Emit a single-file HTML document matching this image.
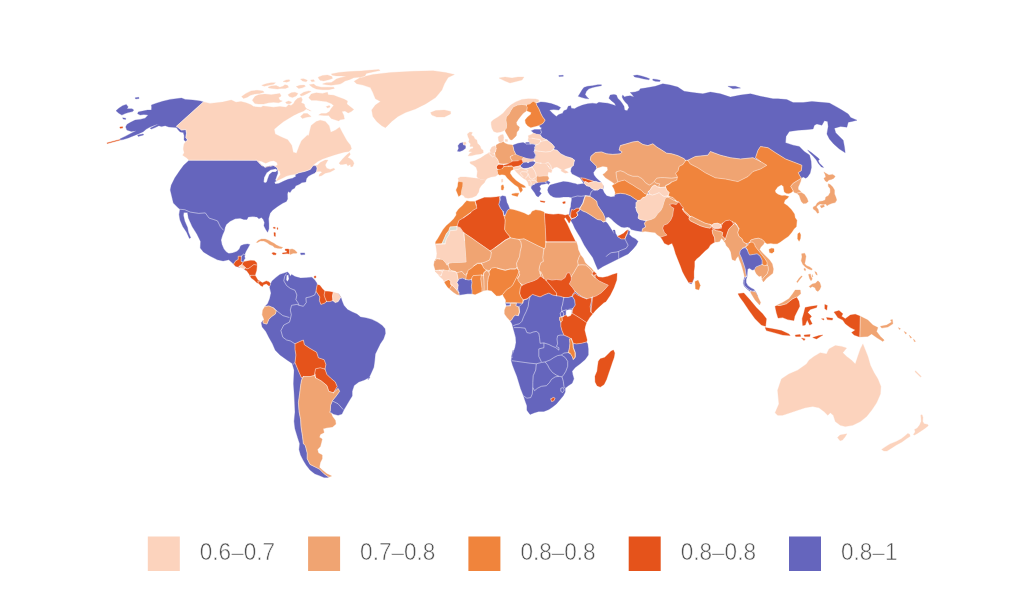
<!DOCTYPE html>
<html><head><meta charset="utf-8"><title>Map</title>
<style>
html,body{margin:0;padding:0;background:#fff}
svg{display:block}
path{stroke-width:.3;stroke-linejoin:round;fill-rule:evenodd}
.bd{fill:none;stroke:#fff;stroke-width:.55;stroke-opacity:.85;stroke-linecap:round}
.a{fill:#fcd3bd}.b{fill:#f0a472}.c{fill:#f0843c}.d{fill:#e5531b}.e{fill:#6565bd}.g{fill:#d8ddd3}
.a{stroke:#fcd3bd}.b{stroke:#f0a472}.c{stroke:#f0843c}.d{stroke:#e5531b}.e{stroke:#6565bd}.g{stroke:#d8ddd3}
.l{fill:none;stroke:#fff;stroke-width:.7;stroke-opacity:.7}
text{font-family:"Liberation Sans",sans-serif;font-size:23.7px;fill:#505050;stroke:#fff;stroke-width:.55px}
</style></head><body>
<svg width="1024" height="614" viewBox="0 0 1024 614">
<rect width="1024" height="614" fill="#fff"/>
<g id="map">
<path class="e" d="M139.1,98.5L138.8,97.3L135.1,97.8L135.7,99.0ZM133.8,110.1L132.0,108.8L126.9,108.8L128.2,106.9L126.3,104.4L122.6,105.7L118.8,108.2L116.0,110.7L118.8,113.2L121.9,115.1L125.1,113.6L128.2,112.6L132.6,111.6ZM123.2,119.1L125.7,119.4L125.7,118.2L122.6,117.8ZM143.6,134.9L143.2,133.9L137.6,135.1L138.2,136.4ZM137.6,113.8L140.1,115.1L143.9,114.4L148.2,115.1L145.1,118.2L140.1,119.4L135.1,120.1L130.1,122.6L126.9,124.5L125.7,127.0L126.9,130.1L131.3,131.4L136.3,130.7L131.3,133.2L125.1,136.4L119.8,139.1L119.9,139.4L120.1,139.4L120.2,140.1L123.2,139.6L128.2,138.0L133.2,135.9L138.2,133.9L143.2,131.7L146.4,129.1L150.1,127.0L155.1,125.1L158.9,124.1L155.1,125.7L150.1,128.2L151.4,129.1L155.1,127.6L158.9,125.7L161.4,126.6L165.2,125.7L168.9,127.0L172.7,127.3L176.4,127.6L178.3,130.1L180.2,132.0L183.3,132.6L184.2,135.7L184.0,140.1L185.8,141.6L187.7,140.1L185.8,137.6L186.5,133.2L185.8,129.5L181.5,130.1L178.3,127.6L176.4,126.3L203.4,101.9L200.3,101.0L192.7,100.0L185.2,99.4L181.5,98.1L177.7,98.5L170.2,99.4L162.7,101.3L156.4,103.2L151.4,105.0L151.6,107.5L151.4,110.1L147.6,110.1L142.6,111.1L138.2,111.9ZM183.7,165.3L180.0,170.3L174.9,177.8L171.2,185.3L170.3,190.0L171.6,195.6L173.4,203.1L178.1,207.8L180.0,209.3L179.1,214.4L180.0,220.0L182.8,226.6L186.6,232.2L189.4,238.4L190.7,237.8L188.4,232.2L187.5,227.5L184.7,220.9L183.4,215.3L183.8,212.5L187.5,212.5L188.4,218.1L192.2,226.6L196.9,234.1L200.6,241.6L200.3,248.1L203.4,251.9L210.0,256.0L217.5,259.8L223.1,260.9L228.8,259.8L232.5,263.1L233.7,264.3L233.8,263.7L235.7,260.8L238.2,259.5L238.2,256.2L241.3,256.2L243.8,253.9L244.8,254.8L244.5,256.4L245.1,253.3L246.3,250.8L248.2,247.6L249.8,244.5L247.6,243.9L243.8,244.5L240.7,245.8L239.4,248.9L236.9,251.4L232.6,252.9L228.8,253.6L226.3,252.0L223.8,248.9L221.9,244.5L221.0,240.1L222.5,235.1L224.4,230.7L225.0,227.6L226.3,224.4L230.1,221.3L235.1,218.8L240.1,218.2L243.8,219.4L247.0,219.4L248.2,216.9L252.6,216.6L257.0,216.9L258.9,218.8L261.4,217.6L263.3,219.4L264.5,222.6L263.9,225.7L265.8,229.5L267.6,232.3L268.9,228.8L268.9,223.8L268.6,218.8L269.1,216.7L270.1,213.3L272.6,210.2L277.6,206.4L282.6,203.3L286.4,201.4L287.6,198.9L287.4,193.9L288.2,191.4L290.1,192.6L292.0,189.5L294.5,188.2L295.8,185.7L298.9,184.5L302.0,182.6L305.8,182.0L306.4,178.8L308.3,176.3L311.4,174.5L315.2,172.8L316.7,171.3L317.1,168.2L316.4,165.7L313.9,165.7L312.1,166.9L310.2,169.4L305.2,171.3L298.9,172.8L295.1,174.5L295.1,174.5L296.1,176.3L292.6,178.2L288.2,179.3L283.9,181.1L278.8,183.5L275.3,184.1L274.5,182.1L276.8,180.8L275.7,180.1L275.8,180.0L275.5,179.8L276.6,176.3L277.8,173.2L277.6,170.1L277.8,170.2L277.6,168.8L276.3,166.9L274.5,166.2L272.5,165.8L269.4,166.3L265.1,167.3L264.9,167.2L264.4,167.3L262.8,166.1L261.9,165.7L258.8,162.6L256.3,159.8L256.4,160.3L189.2,160.2ZM275.7,172.0L272.3,172.1L269.4,174.5L267.8,178.8L266.8,182.1L265.1,182.9L263.6,182.0L264.1,177.6L266.6,172.8L270.7,169.8L275.7,168.8L277.6,170.1ZM240.0,267.3L238.8,266.9L239.4,266.2L238.6,266.9L235.3,265.9ZM246.6,270.6L244.4,269.2L245.1,267.7L244.2,269.0ZM250.3,276.3L250.3,275.5L249.8,275.3ZM259.3,280.9L259.5,281.3L260.2,281.4Z"/>
<path class="a" d="M300.5,79.0L302.4,80.9L306.2,81.8L307.4,80.3L303.7,78.8ZM283.0,81.5L286.8,82.2L289.9,80.9L289.3,79.7L286.1,80.0ZM273.6,84.3L275.5,82.8L271.1,82.8L266.1,83.8L261.7,85.3L264.2,86.3L268.6,85.3ZM299.9,85.3L296.2,86.6L298.7,88.4L302.4,87.8L305.5,86.3L304.3,85.1ZM279.9,87.2L276.1,85.6L271.1,85.9L268.0,87.2L269.2,88.1L272.3,88.4L277.4,89.1L281.1,88.4L285.5,88.4L288.6,87.2L287.4,85.3L284.9,84.7L283.0,86.3ZM241.6,96.6L243.5,98.5L247.3,97.2L250.4,95.3L254.8,94.1L259.8,93.4L264.2,92.2L262.9,90.9L257.3,90.3L251.0,90.9L246.0,93.4ZM298.0,93.4L294.9,92.2L291.1,92.8L288.0,94.7L289.3,96.6L292.4,97.6L296.2,96.0ZM279.9,93.4L276.1,94.1L271.1,94.7L264.8,94.1L258.6,94.7L254.8,96.6L252.3,100.3L254.8,103.5L258.6,104.1L263.6,104.1L268.6,102.8L273.6,102.2L278.6,102.8L282.4,101.0L279.9,100.3L278.6,97.8L281.1,96.0ZM289.9,103.8L291.8,102.2L288.6,101.0L285.5,102.2L286.8,103.8ZM185.8,137.6L187.7,140.1L185.8,141.6L184.0,143.9L183.3,148.9L184.2,152.7L182.7,155.2L186.5,157.7L189.2,160.2L256.4,160.3L256.3,159.8L258.8,162.6L261.9,165.7L262.8,166.1L261.3,165.1L257.5,160.7L261.3,161.3L265.7,163.2L270.1,161.3L273.8,160.7L277.0,162.6L277.6,165.1L275.1,166.3L274.5,166.2L276.3,166.9L277.6,168.8L277.8,170.2L279.8,171.3L280.4,174.5L278.2,177.6L276.6,180.4L275.8,180.0L275.7,180.1L276.8,180.8L277.6,180.4L283.2,177.8L286.6,176.1L290.1,175.1L294.9,174.2L295.1,174.5L295.1,174.5L298.9,172.8L305.2,171.3L310.2,169.4L312.1,166.9L313.3,165.1L317.7,161.6L322.7,159.0L327.7,157.2L335.2,154.7L344.0,152.2L349.0,151.5L351.5,148.8L350.3,145.0L347.8,141.9L346.6,140.2L342.4,132.7L339.6,127.2L335.3,130.2L330.8,132.2L329.1,125.7L325.3,121.4L320.3,120.2L316.2,121.6L311.2,125.4L309.9,130.4L308.7,135.4L307.3,135.2L301.5,140.7L299.0,146.5L296.5,153.2L293.2,152.2L291.7,145.2L287.7,139.7L280.7,136.7L275.2,133.9L274.2,129.2L278.6,125.4L283.6,121.6L288.6,118.5L293.6,115.4L298.7,112.9L303.7,111.0L306.2,109.1L311.2,111.0L306.2,108.5L304.9,106.6L304.3,104.1L301.2,102.8L302.4,99.7L301.2,97.2L297.4,98.5L294.9,101.0L293.6,103.5L291.1,105.4L288.6,104.7L286.1,107.2L279.9,106.6L273.6,107.2L267.3,106.6L262.9,106.0L261.1,107.2L253.5,106.6L251.0,104.7L246.0,102.8L241.0,101.6L236.0,102.2L231.3,100.1L222.6,102.1L210.0,103.4L203.4,101.9L176.4,126.3L178.3,127.6L181.5,130.1L185.8,129.5L186.5,133.2ZM265.1,167.3L269.4,166.3L272.5,165.8L272.0,165.7L268.2,166.6L264.9,167.2ZM322.5,84.1L326.2,84.7L331.2,85.3L335.0,84.7L340.0,84.1L342.5,82.8L345.0,80.9L349.4,79.7L353.8,77.8L358.8,77.2L360.9,77.4L364.6,76.5L366.3,73.4L373.8,71.8L380.1,70.5L378.9,69.6L368.8,70.3L361.3,70.9L353.8,71.3L346.3,71.8L338.8,72.5L331.2,74.0L332.5,75.3L336.3,75.9L341.3,75.9L346.3,76.5L340.0,77.8L336.3,79.0L333.7,80.9L331.2,82.5L326.2,82.8ZM318.7,78.4L320.0,80.3L323.7,80.9L328.7,79.7L332.5,78.4L331.9,76.5L327.5,75.0L322.5,75.5L318.1,77.2ZM310.6,80.0L311.8,81.8L314.7,81.3L313.7,79.7ZM309.3,84.7L312.4,87.2L316.2,89.1L322.5,89.7L328.7,89.7L334.4,88.4L333.7,87.2L327.5,87.2L321.2,87.2L316.2,85.9L313.7,84.1ZM311.2,91.6L308.7,90.9L303.7,92.2L299.9,94.7L301.2,96.0L303.7,95.3L307.4,93.4ZM321.2,113.5L318.7,115.1L323.7,115.4L328.7,115.4L331.2,118.5L335.0,119.8L338.8,121.0L340.0,119.8L344.4,119.1L343.8,115.4L341.9,111.6L345.0,111.0L348.2,112.9L351.3,111.6L353.8,109.4L350.0,106.6L346.9,104.1L347.5,101.0L343.8,99.1L338.8,97.2L333.7,95.3L328.1,94.7L327.5,92.2L322.5,93.4L316.2,92.8L311.2,94.1L308.7,97.8L311.2,100.3L316.2,100.3L321.2,101.0L326.2,101.6L331.2,103.5L333.7,105.4L331.2,108.5L329.4,111.6L326.2,113.5ZM329.4,105.6L326.2,106.6L327.5,108.1L330.2,106.9ZM350.3,154.4L349.6,152.5L346.5,155.0L342.8,158.8L339.0,163.2L340.3,164.4L342.8,164.4L346.5,163.8L347.8,165.7L350.3,164.4L350.9,166.9L352.8,166.3L354.0,163.2L352.8,160.7L350.3,158.8L347.8,157.5ZM322.1,172.3L319.6,174.1L318.9,176.3L321.5,175.7L325.2,173.2L330.2,172.0L334.9,169.4L334.0,168.2L330.2,169.4L326.7,168.2L325.2,165.1L326.5,162.6L328.0,160.1L325.2,160.1L320.2,162.6L317.1,165.4L313.9,165.7L316.4,165.7L317.1,168.2L316.7,171.3L315.2,172.8L317.1,171.6L320.2,171.3Z"/>
<path class="d" d="M241.3,258.9L241.3,256.2L238.2,256.2L238.2,259.5L235.7,260.8L233.8,263.7L233.7,264.3L235.3,265.9L238.6,266.9L239.4,266.2L240.1,265.8L242.0,264.5L243.2,262.0L241.1,261.4Z"/>
<path class="e" d="M241.3,256.2L241.3,258.9L241.1,261.4L243.2,262.0L243.8,260.2L245.1,258.3L244.5,256.4L244.8,254.8L243.8,253.9Z"/>
<path class="a" d="M244.5,266.4L242.0,264.5L240.1,265.8L239.4,266.2L238.8,266.9L240.0,267.3L243.8,268.8L244.2,269.0L245.1,267.7Z"/>
<path class="d" d="M244.5,266.4L245.1,267.7L247.0,268.9L248.8,268.3L251.4,266.4L253.9,264.5L257.0,265.1L256.6,262.7L254.5,260.8L250.7,260.4L246.3,261.2L243.2,262.0L242.0,264.5Z"/>
<path class="d" d="M251.4,266.4L248.8,268.3L247.0,268.9L245.1,267.7L244.4,269.2L246.6,270.6L249.4,274.4L249.8,275.3L250.3,275.5L250.3,275.3L255.0,275.3L256.5,270.6L257.0,265.2L257.0,265.1L253.9,264.5Z"/>
<path class="d" d="M250.3,276.3L251.3,278.1L254.1,280.0L256.9,282.8L258.4,283.3L257.8,280.9L259.5,281.3L259.3,280.9L257.8,280.0L255.0,275.3L250.3,275.3Z"/>
<path class="d" d="M258.4,283.3L258.8,283.4L260.6,285.6L262.5,286.6L263.4,284.7L266.3,283.8L269.1,286.0L270.3,285.2L270.5,284.1L269.1,281.9L266.3,280.9L262.5,282.8L260.2,281.4L257.8,280.9Z"/>
<path class="a" d="M302.4,118.5L306.2,117.3L311.2,116.6L307.4,113.5L303.7,113.5L300.5,116.6Z"/>
<path class="a" d="M356.6,83.8L362.9,85.1L370.4,87.6L372.9,92.6L375.4,98.8L380.5,101.4L375.4,105.1L371.7,110.1L372.9,116.4L376.7,121.4L381.7,125.7L385.5,127.7L391.7,121.4L398.0,116.4L405.5,112.6L415.5,108.9L425.6,103.9L435.6,97.6L441.9,90.1L444.4,83.8L448.1,77.5L454.4,74.5L445.6,72.5L433.1,70.8L413.0,71.3L390.5,72.5L372.9,74.5L360.4,77.5L354.1,81.3Z"/>
<path class="a" d="M431.8,115.1L436.8,117.1L444.4,117.1L450.6,113.9L450.6,111.4L444.4,110.1L435.6,110.6L430.6,112.6Z"/>
<path class="d" d="M107.3,143.6L120.2,140.1L120.1,139.4L106.9,142.9Z"/>
<path class="d" d="M120.1,128.3L122.7,128.1L122.6,126.7L119.8,127.0Z"/>
<path class="b" d="M257.6,242.4L260.1,241.1L263.9,241.1L267.0,242.6L269.5,244.5L272.7,245.8L274.5,247.6L277.7,248.3L281.4,248.6L282.7,247.4L279.5,246.4L276.4,245.1L273.9,243.2L271.4,242.0L268.9,240.4L265.1,239.1L261.4,239.1L258.2,240.4L256.4,242.4Z"/>
<path class="d" d="M287.7,248.9L285.2,249.1L285.2,250.4L287.1,251.1L286.4,252.4L282.4,252.9L282.7,253.9L287.1,253.6L289.6,253.9L289.6,253.6L289.6,249.5Z"/>
<path class="b" d="M289.6,253.6L290.2,254.5L293.3,253.3L296.5,253.3L297.1,252.4L294.6,250.1L292.1,248.9L289.6,249.5Z"/>
<path class="d" d="M273.3,254.8L275.8,254.8L276.2,253.5L273.9,252.6L271.8,253.0Z"/>
<path class="e" d="M300.9,254.8L304.9,254.5L304.6,252.9L300.5,252.9Z"/>
<path class="d" d="M273.5,228.3L275.2,228.6L275.2,227.3L273.3,227.3Z"/>
<path class="d" d="M274.2,236.1L275.4,236.4L275.4,232.8L273.9,232.6Z"/>
<path class="d" d="M277.2,229.3L277.8,229.5L277.9,227.8L277.0,227.8Z"/>
<path class="d" d="M314.4,278.1L315.9,277.8L315.9,275.9L314.1,276.3Z"/>
<path class="e" d="M375.3,354.1L377.5,349.4L380.3,343.8L383.5,339.1L385.4,333.4L385.0,328.8L382.2,325.4L377.5,322.2L371.9,319.4L366.3,317.9L360.6,317.1L356.9,314.1L352.2,311.9L347.5,309.6L343.8,305.3L342.3,301.6L340.9,297.3L338.1,293.5L340.8,297.1L338.1,301.6L335.3,302.5L332.9,300.6L329.7,301.6L326.5,301.6L324.1,303.4L320.9,304.4L319.4,300.6L319.8,296.9L317.9,294.1L316.0,291.3L316.6,287.5L317.3,284.4L316.6,282.8L314.7,280.0L311.9,277.2L306.3,277.8L300.6,278.1L295.0,276.6L291.6,274.4L290.3,276.3L289.0,273.4L287.5,272.1L284.7,272.9L280.0,274.4L276.3,277.2L272.1,280.9L270.6,283.8L269.7,287.5L271.0,293.1L269.7,298.8L267.8,303.4L265.0,306.6L268.8,305.9L273.4,307.8L276.3,310.9L275.3,314.1L271.6,316.6L268.8,319.4L266.9,324.1L263.1,323.1L263.1,320.5L261.3,322.8L262.2,326.9L265.9,331.6L268.8,337.2L272.5,343.8L275.3,350.3L280.0,355.0L286.6,359.7L292.2,363.4L294.1,370.0L293.5,383.8L294.1,393.1L294.6,402.5L295.0,411.9L294.1,421.3L295.0,428.8L297.8,438.1L299.7,443.8L299.1,449.4L300.6,455.0L303.4,460.6L306.3,465.3L310.0,470.0L314.7,473.8L319.4,475.6L324.1,477.5L327.8,477.5L328.8,477.1L328.8,477.1L324.1,473.8L319.4,469.1L315.6,467.2L310.0,464.4L307.2,458.8L307.2,453.1L305.3,445.6L303.4,443.8L302.5,436.3L301.0,426.9L300.6,419.4L299.1,411.9L298.4,402.5L299.7,393.1L300.6,385.6L301.6,380.0L303.4,376.6L301.6,378.1L299.1,372.5L296.9,367.2L295.0,362.5L295.9,355.0L295.0,349.4L295.0,343.8L299.7,341.5L303.4,340.0L304.4,344.7L310.0,348.4L316.6,352.2L318.4,357.8L324.1,359.7L325.9,364.4L325.0,369.1L325.0,369.1L326.9,374.4L330.6,378.1L335.3,381.9L337.2,386.6L333.4,392.8L338.1,388.4L339.6,391.3L336.3,395.9L332.5,400.6L330.6,405.3L330.3,410.9L329.7,412.3L331.2,413.3L330.6,411.9L333.4,414.1L338.1,415.3L341.9,414.1L343.8,410.0L346.6,405.3L349.4,400.6L352.2,395.9L352.2,391.3L354.1,385.6L358.8,381.9L364.4,380.0L369.1,377.6L370.9,373.8L373.8,367.2L374.7,360.6ZM286.2,280.0L286.6,275.3L288.4,274.8L289.0,279.1L287.5,281.5ZM368.1,379.8L370.0,377.2L369.1,377.6ZM314.7,375.3L315.6,377.8L314.9,374.2Z"/>
<path class="b" d="M266.9,324.1L268.8,319.4L271.6,316.6L275.3,314.1L276.3,310.9L273.4,307.8L268.8,305.9L265.0,306.6L262.8,310.0L262.2,314.7L264.1,319.4L263.1,320.5L263.1,323.1Z"/>
<path class="d" d="M316.0,291.3L317.9,294.1L319.8,296.9L319.4,300.6L320.9,304.4L324.1,303.4L326.5,301.6L325.0,297.8L324.1,295.0L324.9,291.2L322.2,288.4L319.8,285.3L317.5,284.7L317.3,284.4L316.6,287.5Z"/>
<path class="d" d="M325.0,297.8L326.5,301.6L329.7,301.6L332.9,300.6L332.5,295.9L333.3,292.2L328.8,291.6L325.0,291.3L324.9,291.2L324.1,295.0Z"/>
<path class="a" d="M332.9,300.6L335.3,302.5L338.1,301.6L340.8,297.1L338.1,293.5L333.4,292.2L333.3,292.2L332.5,295.9Z"/>
<path class="d" d="M295.9,355.0L295.0,362.5L296.9,367.2L299.1,372.5L301.6,378.1L303.4,376.6L310.0,376.6L314.7,375.3L314.9,374.2L314.7,373.4L315.6,368.8L320.3,367.8L325.0,369.1L325.0,369.1L325.9,364.4L324.1,359.7L318.4,357.8L316.6,352.2L310.0,348.4L304.4,344.7L303.4,340.0L299.7,341.5L295.0,343.8L295.0,349.4Z"/>
<path class="d" d="M315.6,377.8L321.3,380.9L326.9,385.6L328.8,391.3L333.4,392.8L337.2,386.6L335.3,381.9L330.6,378.1L326.9,374.4L325.0,369.1L320.3,367.8L315.6,368.8L314.7,373.4Z"/>
<path class="b" d="M330.3,410.9L330.6,405.3L332.5,400.6L336.3,395.9L339.6,391.3L338.1,388.4L333.4,392.8L328.8,391.3L326.9,385.6L321.3,380.9L315.6,377.8L314.7,375.3L310.0,376.6L303.4,376.6L301.6,380.0L300.6,385.6L299.7,393.1L298.4,402.5L299.1,411.9L300.6,419.4L301.0,426.9L302.5,436.3L303.4,443.8L305.3,445.6L307.2,453.1L307.2,458.8L310.0,464.4L315.6,467.2L319.4,469.1L324.1,473.8L328.8,477.1L328.8,477.1L331.6,476.0L326.9,473.8L322.2,470.0L319.4,467.2L320.3,462.5L322.2,458.8L322.2,455.0L318.4,453.1L317.5,449.4L320.3,446.6L321.3,442.8L322.2,439.1L319.4,437.2L320.3,434.4L324.1,432.5L323.1,428.8L326.9,427.8L332.5,426.9L335.9,424.1L335.3,420.3L332.5,416.6L331.2,413.3L329.7,412.3Z"/>
<path class="e" d="M572.0,173.8L576.0,175.8L580.1,177.8L583.9,183.5L582.3,183.8L577.3,184.4L575.9,183.8L573.3,183.2L568.3,182.0L563.3,181.6L558.3,182.8L554.5,183.8L550.1,185.1L548.3,187.6L547.6,190.1L548.3,192.6L550.1,195.1L553.3,197.0L556.0,197.5L559.8,197.5L563.5,196.9L568.5,196.9L571.7,197.5L571.7,200.1L571.0,203.2L570.8,206.9L570.0,208.8L569.5,213.8L569.2,215.3L571.3,219.1L571.0,220.7L572.9,223.9L574.8,228.2L577.3,232.6L580.4,237.6L584.2,245.1L588.4,251.4L592.9,257.7L595.4,263.9L597.9,269.7L603.0,266.4L610.5,262.7L620.5,257.7L628.1,253.9L633.1,248.9L636.2,245.2L638.1,241.4L635.6,238.9L631.8,237.0L629.3,234.5L629.9,231.4L628.1,229.9L628.3,230.1L627.4,233.3L626.2,235.8L624.9,238.9L621.2,238.9L617.4,236.4L615.5,233.3L614.9,230.1L613.0,230.1L614.3,233.9L611.8,230.1L609.9,227.0L607.4,223.2L605.5,221.4L606.1,217.6L608.6,217.0L611.1,218.8L614.3,222.0L617.4,224.5L621.2,227.0L624.3,227.6L627.4,227.0L629.3,227.6L631.2,229.5L636.2,230.8L641.2,231.4L641.8,231.4L641.9,232.0L642.5,228.8L645.6,227.0L644.4,223.2L646.3,220.7L642.5,220.1L640.0,219.4L638.1,218.2L638.7,214.5L636.8,211.3L635.6,206.9L636.0,207.7L636.0,202.7L637.9,200.8L634.1,198.3L630.4,195.8L625.4,193.9L620.3,193.3L616.0,193.9L615.0,194.5L614.7,196.4L610.9,197.0L606.6,195.8L604.1,192.6L602.8,189.5L603.4,185.7L602.8,188.9L600.3,188.2L597.8,190.1L594.7,190.1L591.5,188.2L589.6,186.4L586.5,185.7L584.0,183.2L584.8,182.0L583.2,181.1L580.7,177.8L584.5,178.3L588.9,179.8L593.3,181.1L593.9,181.6L595.9,181.4L599.0,182.6L601.5,182.6L598.4,180.1L595.9,177.6L594.0,175.1L593.4,172.6L596.5,168.2L596.5,166.3L593.4,163.2L590.3,160.1L590.9,156.3L595.3,152.5L601.5,151.9L606.6,153.8L612.8,154.4L620.3,153.8L622.2,151.9L619.1,150.0L620.3,145.6L626.6,143.8L632.9,141.9L637.9,141.3L642.9,144.4L647.9,145.6L652.9,143.8L656.7,146.9L661.7,150.0L666.7,153.2L671.7,153.8L678.0,155.7L684.3,158.8L685.5,160.7L685.3,160.3L687.8,160.3L695.3,156.5L707.9,155.2L710.4,151.5L720.4,155.2L730.4,157.7L740.5,159.0L753.0,157.7L760.5,161.5L755.5,157.7L758.0,150.2L760.5,146.5L768.0,147.7L775.5,152.7L785.6,159.0L795.6,162.8L801.9,165.3L801.3,170.7L798.2,172.6L799.4,175.1L801.3,178.2L803.2,176.9L805.7,178.2L807.6,176.9L810.1,173.2L811.4,167.5L811.1,161.3L809.5,155.0L804.3,151.5L799.3,146.5L793.1,145.2L785.5,142.7L786.0,136.4L789.3,131.4L798.1,130.2L805.6,129.7L813.1,128.9L814.4,125.2L816.9,123.9L821.9,125.2L824.4,120.7L827.6,121.4L828.2,126.4L826.9,133.9L829.4,138.9L833.7,144.0L839.4,149.0L845.2,152.7L844.4,146.5L843.2,140.2L839.4,136.4L835.7,132.7L834.4,128.2L840.7,126.4L846.9,127.2L848.2,122.2L852.0,121.4L857.0,120.2L850.7,117.6L848.2,113.9L841.9,110.1L835.7,106.4L829.4,103.1L818.1,102.1L811.9,101.4L803.1,102.6L793.1,102.6L786.8,99.6L778.0,98.8L773.0,98.8L760.5,96.3L750.5,93.8L740.5,95.1L730.4,97.1L720.4,93.8L710.4,92.1L702.9,93.8L692.8,92.6L684.1,91.3L677.8,87.1L670.3,85.1L662.8,83.8L655.2,86.3L645.2,88.1L640.3,88.8L639.0,90.7L635.2,91.9L630.2,92.6L632.1,94.4L634.0,96.9L630.2,95.7L626.5,96.3L624.6,96.9L622.7,95.1L622.1,96.9L623.3,99.4L625.2,102.0L627.7,104.5L629.0,107.6L627.1,110.7L624.6,110.1L624.0,106.3L622.1,103.2L620.2,100.7L617.7,98.2L616.4,95.1L613.9,94.4L610.2,95.1L608.9,98.2L611.4,100.7L614.6,103.2L615.8,105.7L612.1,104.5L607.7,103.2L602.7,102.8L598.9,102.3L596.4,103.8L592.6,103.2L587.6,103.8L582.6,105.1L577.6,107.0L574.5,108.8L571.3,108.2L570.7,105.7L568.2,106.3L566.9,109.5L563.8,110.7L562.6,113.2L558.8,114.5L556.3,116.4L552.5,113.2L549.4,110.1L553.8,109.5L558.8,110.1L560.7,107.6L557.5,105.7L551.3,103.6L545.0,102.3L540.7,101.9L536.2,103.6L537.0,105.7L538.9,108.8L540.7,113.2L542.6,116.9L545.1,120.1L543.2,123.2L540.1,125.1L539.0,125.4L540.7,127.6L541.5,127.6L541.0,130.0L540.9,130.5L541.4,132.6L540.6,133.7L540.5,135.3L542.0,137.6L547.0,140.1L552.0,143.9L554.5,147.0L553.3,149.5L557.0,150.2L560.8,153.9L565.8,156.4L572.1,158.3L574.5,160.2L573.9,162.5L573.3,165.7L573.1,165.8L571.3,168.3L570.8,171.3ZM603.0,222.0L601.1,220.1L597.4,219.5L593.6,217.0L589.8,214.5L586.1,212.3L582.9,211.1L580.4,209.4L579.8,208.2L582.9,203.2L584.2,198.8L585.4,195.7L589.8,196.3L593.6,198.8L596.7,201.3L597.4,205.1L599.9,208.8L603.0,213.2L604.9,217.6L605.5,221.4ZM579.2,210.7L576.7,212.6L577.9,215.1L575.4,217.6L571.7,218.8L570.4,216.3L570.8,212.6L571.7,209.4L573.5,210.1L576.7,208.2L579.8,208.2ZM688.9,282.8L691.4,284.0L693.9,277.8L691.9,282.7L688.8,282.7ZM743.8,280.1L743.3,283.3L744.0,284.8L744.0,280.1L745.8,277.0L746.5,276.4L744.8,277.0L744.6,277.1ZM744.6,286.4L747.1,288.9L750.2,291.4L750.4,291.8L750.8,290.8L747.1,288.3L744.2,285.4L744.0,284.8ZM754.6,290.2L752.7,288.9L754.4,290.0L754.0,291.4L755.5,291.9L757.6,296.3ZM675.5,200.2L675.5,200.9L676.3,201.3L676.7,201.4ZM648.5,191.4L647.3,194.5L649.2,193.9ZM682.9,208.6L682.6,209.4L683.3,209.5ZM736.3,224.7L738.9,228.8L737.1,225.0L736.2,224.1ZM746.5,243.8L747.7,245.1L749.6,242.5ZM745.8,247.6L746.3,246.1L745.2,246.9L742.7,248.2L745.2,247.6L747.1,249.4Z"/>
<path class="b" d="M675.5,200.2L673.0,197.6L669.2,196.4L666.9,196.9L670.1,198.1L673.2,200.0L675.5,200.9Z"/>
<path class="d" d="M736.2,224.1L735.2,223.2L736.3,224.7ZM682.6,209.4L682.6,209.4L683.4,210.7L690.4,216.6L690.4,216.6L690.4,216.6L688.0,213.9L683.6,210.2L683.3,209.5ZM712.1,225.1L710.2,224.4L711.4,225.7L712.1,228.2L713.9,228.8L717.7,228.8L721.5,228.2L721.5,225.7L722.7,223.2L720.8,224.4L721.2,227.0L718.3,228.2L714.6,228.2L712.4,227.0ZM732.7,221.9L733.4,224.4L735.2,223.2Z"/>
<path class="b" d="M593.4,163.2L596.5,166.3L596.5,168.2L602.8,166.3L607.2,166.9L607.8,170.1L604.7,173.2L602.8,174.5L605.3,177.6L609.1,180.1L612.2,182.0L614.7,183.9L617.8,182.0L621.6,180.7L624.7,180.1L628.5,182.6L632.9,185.1L636.6,187.6L641.0,190.1L644.2,193.3L647.3,194.5L648.5,191.4L650.4,189.5L652.3,186.4L654.8,185.1L657.9,187.0L660.4,187.6L665.5,187.0L665.5,185.7L669.2,183.9L671.7,182.0L676.7,180.1L677.4,177.0L675.5,173.2L678.0,170.7L679.2,166.3L683.0,164.4L685.5,160.7L684.3,158.8L678.0,155.7L671.7,153.8L666.7,153.2L661.7,150.0L656.7,146.9L652.9,143.8L647.9,145.6L642.9,144.4L637.9,141.3L632.9,141.9L626.6,143.8L620.3,145.6L619.1,150.0L622.2,151.9L620.3,153.8L612.8,154.4L606.6,153.8L601.5,151.9L595.3,152.5L590.9,156.3L590.3,160.1Z"/>
<path class="b" d="M697.8,167.8L705.4,172.8L715.4,177.8L725.4,179.0L737.9,181.6L748.0,176.5L753.0,171.5L760.5,169.0L766.8,165.3L760.5,161.5L753.0,157.7L740.5,159.0L730.4,157.7L720.4,155.2L710.4,151.5L707.9,155.2L695.3,156.5L687.8,160.3L690.3,164.0Z"/>
<path class="c" d="M712.1,225.1L713.9,223.6L717.7,223.2L720.8,224.4L722.7,223.2L725.8,220.7L729.6,220.1L732.7,221.9L735.2,223.2L737.1,225.0L738.9,228.8L737.7,232.5L738.9,236.3L742.1,238.8L743.3,241.9L746.5,243.8L749.6,242.5L750.8,240.0L754.6,238.8L758.4,238.2L762.1,239.4L764.6,241.9L767.1,243.8L770.9,243.2L773.4,243.8L777.2,243.8L780.3,241.9L784.7,238.8L788.4,236.3L791.6,232.5L794.1,228.8L796.3,226.7L796.9,220.2L795.1,217.7L794.4,213.9L791.3,209.5L787.5,205.8L783.8,203.3L785.0,200.1L787.5,198.2L788.8,196.6L785.0,195.4L781.9,195.7L778.1,194.5L775.6,192.6L775.0,190.7L777.5,187.0L781.3,184.8L783.5,186.6L783.8,189.5L784.4,192.0L786.3,193.2L788.8,193.6L791.3,192.6L793.2,190.7L790.7,186.3L793.2,183.2L796.3,181.3L799.4,179.4L801.3,178.2L799.4,175.1L798.2,172.6L801.3,170.7L801.9,165.3L795.6,162.8L785.6,159.0L775.5,152.7L768.0,147.7L760.5,146.5L758.0,150.2L755.5,157.7L760.5,161.5L766.8,165.3L760.5,169.0L753.0,171.5L748.0,176.5L737.9,181.6L725.4,179.0L715.4,177.8L705.4,172.8L697.8,167.8L690.3,164.0L687.8,160.3L685.3,160.3L685.5,160.7L683.0,164.4L679.2,166.3L678.0,170.7L675.5,173.2L677.4,177.0L676.7,180.1L671.7,182.0L669.2,183.9L665.5,185.7L665.5,187.0L666.7,190.1L669.2,192.6L668.0,195.8L669.2,196.4L673.0,197.6L676.7,201.4L678.2,201.9L680.1,203.1L681.4,205.7L683.2,207.5L682.9,208.6L683.6,210.2L688.0,213.9L690.4,216.6L691.4,216.3L695.1,218.2L700.2,220.7L705.2,223.2L710.2,224.4ZM689.5,216.9L690.4,216.6L683.4,210.7L684.5,212.5L687.0,215.1Z"/>
<path class="b" d="M796.3,181.3L793.2,183.2L790.7,186.3L793.2,190.7L794.4,192.6L796.9,193.2L799.4,195.7L800.1,198.2L801.3,201.4L803.2,203.6L806.3,203.3L808.2,201.4L807.0,198.2L804.5,194.5L801.3,192.4L800.1,190.7L798.2,189.5L798.2,187.0L799.4,184.5L800.7,181.3L801.3,178.2L799.4,179.4Z"/>
<path class="c" d="M616.0,193.9L620.3,193.3L625.4,193.9L630.4,195.8L634.1,198.3L637.9,200.8L640.4,200.2L642.9,197.6L645.4,197.0L647.3,194.5L644.2,193.3L641.0,190.1L636.6,187.6L632.9,185.1L628.5,182.6L624.7,180.1L621.6,180.7L617.8,182.0L614.7,183.9L612.2,185.7L614.1,188.9L615.3,192.6L615.0,194.5Z"/>
<path class="a" d="M649.2,193.9L652.3,195.1L656.1,193.9L659.2,192.6L661.7,195.1L664.2,196.4L668.0,195.8L669.2,192.6L666.7,190.1L665.5,187.0L660.4,187.6L657.9,187.0L654.8,185.1L652.3,186.4L650.4,189.5L648.5,191.4Z"/>
<path class="a" d="M635.6,206.9L636.8,211.3L638.7,214.5L638.1,218.2L640.0,219.4L642.5,220.1L646.3,220.7L651.3,219.4L655.0,217.6L657.5,213.8L660.7,210.7L662.6,206.9L663.8,202.5L665.1,198.8L666.9,196.9L669.2,196.4L668.0,195.8L664.2,196.4L661.7,195.1L659.2,192.6L656.1,193.9L652.3,195.1L649.2,193.9L647.3,194.5L645.4,197.0L642.9,197.6L640.4,200.2L637.9,200.8L636.0,202.7L636.0,207.7Z"/>
<path class="b" d="M664.4,232.6L662.6,228.2L663.8,225.1L667.6,223.8L670.7,220.1L672.6,215.7L673.2,211.3L673.8,208.2L671.3,206.9L669.4,204.4L672.6,203.8L676.3,204.4L678.2,201.9L676.3,201.3L673.2,200.0L670.1,198.1L666.9,196.9L665.1,198.8L663.8,202.5L662.6,206.9L660.7,210.7L657.5,213.8L655.0,217.6L651.3,219.4L646.3,220.7L644.4,223.2L645.6,227.0L642.5,228.8L641.9,232.0L645.0,231.3L650.0,232.0L655.0,232.6L657.5,235.1L660.7,237.0L666.9,235.1Z"/>
<path class="d" d="M712.7,233.8L712.1,230.1L713.9,229.5L716.4,230.7L720.2,231.3L722.7,232.6L722.1,235.7L724.0,237.6L725.2,239.5L726.5,235.7L727.7,232.0L729.0,228.8L730.9,227.0L733.4,224.4L732.7,221.9L729.6,220.1L725.8,220.7L722.7,223.2L721.5,225.7L721.5,228.2L717.7,228.8L713.9,228.8L712.1,228.2L711.4,225.7L710.2,228.2L705.2,227.3L700.2,225.7L695.1,223.2L690.1,220.7L688.9,218.8L689.5,216.9L687.0,215.1L684.5,212.5L682.6,209.4L683.2,207.5L681.4,205.7L680.1,203.1L678.2,201.9L676.3,204.4L672.6,203.8L669.4,204.4L671.3,206.9L673.8,208.2L673.2,211.3L672.6,215.7L670.7,220.1L667.6,223.8L663.8,225.1L662.6,228.2L664.4,232.6L666.9,235.1L660.7,237.0L662.6,240.1L664.4,243.2L668.2,245.1L672.0,243.2L673.8,247.6L675.7,253.9L678.2,260.2L680.7,266.4L682.6,271.7L685.1,276.5L688.8,282.7L691.9,282.7L693.9,277.8L693.9,271.7L694.5,266.4L694.5,261.4L696.4,258.9L699.5,256.4L702.7,253.3L705.2,250.8L708.3,248.3L710.2,245.1L712.7,243.2L714.9,242.1L714.6,237.6Z"/>
<path class="b" d="M690.1,220.7L695.1,223.2L700.2,225.7L705.2,227.3L710.2,228.2L711.4,225.7L710.2,224.4L705.2,223.2L700.2,220.7L695.1,218.2L691.4,216.3L689.5,216.9L688.9,218.8Z"/>
<path class="a" d="M714.6,228.2L718.3,228.2L721.2,227.0L720.8,224.4L717.7,223.2L713.9,223.6L712.1,225.1L712.4,227.0Z"/>
<path class="b" d="M724.0,237.6L722.1,235.7L722.7,232.6L720.2,231.3L716.4,230.7L713.9,229.5L712.1,230.1L712.7,233.8L714.6,237.6L714.9,242.1L715.2,242.0L717.1,242.0L719.6,241.4L721.5,238.2L723.3,240.1L725.2,242.5L723.9,240.9L725.2,239.5Z"/>
<path class="b" d="M746.5,276.4L745.8,273.2L745.2,268.9L744.0,265.1L742.7,261.3L741.4,257.6L739.6,253.8L740.2,250.7L742.7,248.2L745.2,246.9L746.3,246.1L746.5,245.7L747.7,245.1L746.5,243.8L743.3,241.9L742.1,238.8L738.9,236.3L737.7,232.5L738.9,228.8L735.2,223.2L733.4,224.4L730.9,227.0L729.0,228.8L727.7,232.0L726.5,235.7L725.2,239.5L723.9,240.9L725.2,242.5L726.4,245.7L728.9,248.2L730.8,251.9L731.4,255.7L732.1,259.5L735.2,260.7L736.4,258.2L738.3,256.1L739.3,259.5L741.1,263.8L742.7,268.9L744.0,273.9L744.6,277.0L744.6,277.1L744.8,277.0Z"/>
<path class="b" d="M758.4,238.2L754.6,238.8L750.8,240.0L749.6,242.5L752.1,241.9L754.6,243.8L755.2,246.3L757.1,248.8L759.6,251.9L762.1,255.1L764.6,258.2L767.1,262.0L767.1,265.1L768.1,266.4L768.4,270.1L767.1,273.9L764.0,277.0L762.1,279.4L762.1,279.5L763.4,282.0L766.5,278.3L769.6,275.8L772.8,273.2L773.4,268.9L772.2,263.8L769.6,260.1L765.9,256.3L762.1,252.6L759.6,249.4L760.9,246.9L763.4,244.4L764.6,241.9L762.1,239.4Z"/>
<path class="c" d="M745.8,247.6L747.1,249.4L748.3,252.6L749.6,255.1L753.4,254.4L757.1,253.8L760.2,256.3L762.1,260.1L762.1,264.5L764.6,265.7L767.1,265.1L767.1,262.0L764.6,258.2L762.1,255.1L759.6,251.9L757.1,248.8L755.2,246.3L754.6,243.8L752.1,241.9L749.6,242.5L747.7,245.1L746.5,245.7Z"/>
<path class="b" d="M767.1,273.9L768.4,270.1L768.1,266.4L767.1,265.1L764.6,265.7L762.1,264.5L759.0,265.7L755.9,267.0L754.6,269.5L755.2,271.4L756.5,273.9L759.0,276.4L761.5,275.8L762.1,279.4L764.0,277.0Z"/>
<path class="b" d="M750.8,290.8L750.4,291.8L751.3,293.8L755.1,300.0L759.6,305.0L760.6,302.5L757.6,296.3L755.5,291.9L754.0,291.4Z"/>
<path class="e" d="M759.0,265.7L762.1,264.5L762.1,260.1L760.2,256.3L757.1,253.8L753.4,254.4L749.6,255.1L748.3,252.6L747.1,249.4L745.2,247.6L742.7,248.2L740.2,250.7L739.6,253.8L741.4,257.6L742.7,261.3L744.0,265.1L745.2,268.9L745.8,273.2L746.5,276.4L745.8,277.0L744.0,280.1L744.0,284.8L744.2,285.4L747.1,288.3L750.8,290.8L754.0,291.4L754.4,290.0L752.7,288.9L750.2,287.4L747.7,285.4L746.1,282.6L746.1,279.5L747.1,276.4L747.3,272.6L747.7,268.9L749.6,268.2L752.1,270.1L754.6,269.5L755.9,267.0Z"/>
<path class="b" d="M603.0,213.2L599.9,208.8L597.4,205.1L596.7,201.3L593.6,198.8L589.8,196.3L585.4,195.7L584.2,198.8L582.9,203.2L579.8,208.2L580.4,209.4L582.9,211.1L586.1,212.3L589.8,214.5L593.6,217.0L597.4,219.5L601.1,220.1L603.0,222.0L605.5,221.4L604.9,217.6Z"/>
<path class="d" d="M570.4,216.3L571.7,218.8L575.4,217.6L577.9,215.1L576.7,212.6L579.2,210.7L579.8,208.2L576.7,208.2L573.5,210.1L571.7,209.4L570.8,212.6Z"/>
<path class="d" d="M624.9,238.9L626.2,235.8L627.4,233.3L628.3,230.1L628.1,229.9L626.2,230.8L623.7,233.3L620.5,235.1L617.4,236.4L621.2,238.9Z"/>
<path class="d" d="M584.8,182.0L585.3,181.4L588.7,183.1L591.5,182.0L593.9,181.6L593.3,181.1L588.9,179.8L584.5,178.3L580.7,177.8L583.2,181.1Z"/>
<path class="a" d="M586.5,185.7L589.6,186.4L591.5,188.2L594.7,190.1L597.8,190.1L600.3,188.2L602.8,188.9L603.4,185.7L601.5,182.6L599.0,182.6L595.9,181.4L591.5,182.0L588.7,183.1L585.3,181.4L584.0,183.2Z"/>
<path class="e" d="M732.9,88.8L740.5,88.1L735.4,86.3L727.9,86.3Z"/>
<path class="c" d="M695.6,289.0L698.9,289.8L700.2,285.3L698.1,280.3L695.1,281.5Z"/>
<path class="a" d="M560.8,153.9L557.0,150.2L553.3,149.5L550.8,151.4L545.7,152.0L540.7,151.4L535.7,150.8L533.8,151.4L535.7,155.2L534.5,158.3L534.5,159.0L535.7,162.5L540.7,163.2L545.7,163.2L548.3,162.5L550.8,165.7L551.4,168.8L552.0,169.4L554.5,167.5L557.0,166.9L560.2,168.8L562.0,170.1L560.8,170.7L563.3,172.3L565.2,173.2L568.3,172.6L567.0,171.3L563.9,170.1L565.8,168.8L569.6,167.5L573.3,165.7L573.9,162.5L574.5,160.2L572.1,158.3L565.8,156.4Z"/>
<path class="a" d="M538.9,143.9L535.7,145.1L534.5,147.6L535.7,150.8L540.7,151.4L545.7,152.0L550.8,151.4L553.3,149.5L554.5,147.0L552.0,143.9L547.0,140.1L540.7,141.4Z"/>
<path class="e" d="M533.2,132.6L536.3,133.9L540.1,134.5L541.4,132.6L540.7,129.5L534.5,129.5L531.3,130.7Z"/>
<path class="a" d="M547.0,140.1L542.0,137.6L540.1,134.7L536.3,134.1L533.2,133.2L531.3,134.5L528.2,135.7L528.8,138.2L532.0,138.2L535.7,138.9L540.1,139.5L540.7,141.4Z"/>
<path class="a" d="M538.9,143.9L540.7,141.4L540.1,139.5L535.7,138.9L532.0,138.2L528.2,138.6L528.2,140.1L529.5,142.3L530.1,143.9L533.2,144.1L535.7,145.1Z"/>
<path class="e" d="M529.5,142.3L525.7,142.6L526.3,144.1L530.1,143.9Z"/>
<path class="e" d="M534.5,158.3L535.7,155.2L533.8,151.4L534.5,147.6L535.7,145.1L533.2,144.1L530.1,143.9L526.3,144.1L523.2,142.6L518.2,143.3L513.2,145.1L513.0,146.5L513.2,147.0L513.8,150.2L515.7,153.9L519.4,155.8L523.2,157.0L526.9,158.3L530.5,158.9L530.8,158.9Z"/>
<path class="b" d="M499.4,143.3L496.2,145.1L496.2,148.3L495.4,152.0L495.1,152.3L495.0,152.5L495.6,156.9L496.0,157.5L497.5,159.4L498.3,161.3L499.4,163.2L503.1,163.8L508.2,163.2L511.3,161.9L511.7,160.1L511.3,159.8L510.2,157.2L510.0,157.0L510.1,157.0L510.0,156.9L511.9,155.6L512.8,155.3L515.7,153.9L513.8,150.2L513.2,147.0L512.5,145.1L508.2,144.5L505.0,143.3L503.1,141.4L500.6,142.6Z"/>
<path class="a" d="M498.8,141.4L500.6,142.6L503.1,141.4L503.8,137.6L503.1,134.5L500.6,135.1L498.1,137.0Z"/>
<path class="a" d="M505.4,141.6L507.5,141.6L507.5,139.5L505.0,139.5Z"/>
<path class="b" d="M521.9,159.4L523.2,157.3L519.4,156.0L515.7,154.4L511.9,155.6L510.0,156.9L511.3,159.8L513.2,161.0L518.2,160.7Z"/>
<path class="a" d="M533.2,161.3L534.5,159.0L533.2,159.0L528.2,158.8L523.2,157.5L521.9,159.8L523.2,162.5L528.2,162.3Z"/>
<path class="d" d="M523.2,162.5L521.9,159.8L518.2,160.7L513.2,161.0L511.3,162.3L506.9,164.4L503.8,165.2L504.0,166.5L508.2,166.2L511.3,166.0L511.3,166.1L511.9,166.0L512.5,166.4L514.4,166.9L518.2,166.3L520.1,165.7L523.0,163.0Z"/>
<path class="e" d="M533.2,161.5L528.2,162.3L523.2,162.8L520.1,165.7L521.3,167.5L523.8,168.8L528.2,168.2L532.0,166.9L534.5,164.4L535.7,162.5Z"/>
<path class="d" d="M503.1,164.9L498.8,164.7L497.2,165.4L496.2,166.9L497.1,168.9L498.8,169.2L502.1,168.8L504.0,166.5Z"/>
<path class="a" d="M493.7,153.3L495.4,152.0L496.2,148.3L495.0,145.8L491.9,147.0L490.0,150.2L490.6,152.7Z"/>
<path class="a" d="M495.0,155.8L493.7,153.5L490.6,152.7L488.7,152.7L488.9,153.3L492.5,156.9L493.1,156.7Z"/>
<path class="a" d="M470.6,163.8L473.1,165.0L476.2,167.5L477.4,171.3L476.8,176.3L478.1,178.2L481.8,179.4L485.6,180.1L487.5,178.2L491.2,176.9L495.6,176.3L498.1,174.4L496.9,171.9L497.5,170.1L496.2,166.9L497.5,165.0L498.8,162.5L497.5,159.4L495.0,156.3L492.5,156.9L488.7,153.1L485.0,155.0L480.6,158.1L474.9,160.7L469.9,161.9Z"/>
<path class="a" d="M501.6,182.3L502.9,182.0L502.9,179.1L501.3,179.4Z"/>
<path class="a" d="M463.7,195.7L464.9,197.6L468.1,198.2L472.4,197.4L476.2,195.7L478.7,192.0L479.3,188.8L481.2,185.7L484.3,182.8L485.6,180.3L481.8,179.7L478.1,178.6L471.8,177.8L465.5,176.9L460.5,176.9L458.0,178.2L458.7,181.3L463.0,182.0L462.8,186.3L461.8,190.1L461.2,194.5Z"/>
<path class="c" d="M458.0,183.2L457.8,186.3L456.1,190.1L457.4,193.2L458.7,196.4L461.2,194.5L461.8,190.1L462.8,186.3L463.0,182.0L458.7,181.3Z"/>
<path class="c" d="M511.9,166.0L508.2,166.2L504.0,166.5L502.1,168.8L499.4,169.4L497.5,170.3L498.1,173.8L499.4,175.1L501.9,174.4L505.0,175.1L507.5,178.2L510.7,181.3L514.4,184.5L518.2,187.0L519.4,190.1L520.7,192.6L522.6,190.1L521.3,187.0L523.2,187.6L525.7,187.3L524.4,185.7L520.7,183.8L516.3,180.7L512.5,176.9L510.0,173.2L510.7,170.7L513.2,169.4L513.7,168.6L513.2,167.5L513.8,167.2Z"/>
<path class="c" d="M511.9,194.9L514.4,195.7L517.5,196.4L518.8,193.2L515.7,193.2L511.9,193.9Z"/>
<path class="c" d="M501.3,189.8L503.1,190.1L503.8,187.6L503.1,184.8L501.3,185.7Z"/>
<path class="a" d="M528.2,168.2L523.8,168.8L521.3,167.5L520.1,165.7L518.2,166.3L514.4,166.9L513.2,167.5L514.4,169.8L516.3,171.9L519.4,175.1L523.2,178.2L526.3,180.1L527.9,182.6L528.8,185.7L530.7,186.3L531.3,186.3L533.2,184.5L537.6,182.8L536.3,180.7L536.3,176.6L536.3,176.3L535.7,173.2L534.5,170.7L532.0,166.9Z"/>
<path class="a" d="M545.7,163.5L540.7,163.2L535.7,162.5L534.5,164.4L532.0,166.9L534.5,170.7L535.7,173.2L536.3,176.3L538.9,176.3L543.2,175.9L547.6,175.9L548.3,171.9L551.4,172.6L552.0,170.1L550.1,168.8L548.3,166.3Z"/>
<path class="a" d="M548.3,166.3L550.1,168.8L551.4,168.8L550.8,165.7L548.3,162.5L545.7,163.2Z"/>
<path class="b" d="M536.3,180.7L537.6,182.8L541.4,182.3L545.1,182.0L547.6,180.7L548.9,178.2L547.6,175.9L543.2,175.9L538.9,176.3L536.3,176.6Z"/>
<path class="e" d="M541.4,182.6L537.6,183.0L533.2,184.5L531.3,186.3L531.3,188.2L532.6,190.1L534.5,192.6L536.3,195.7L538.2,197.0L540.1,195.1L541.4,193.2L539.5,191.4L540.7,188.8L539.5,186.3L541.4,184.5L544.5,184.1L547.0,183.2L545.1,182.2Z"/>
<path class="d" d="M540.7,201.8L544.5,202.4L545.1,201.5L542.0,200.9L540.1,200.8Z"/>
<path class="e" d="M547.0,183.2L548.3,184.5L550.1,182.3L547.6,181.1L545.1,182.2Z"/>
<path class="d" d="M563.0,203.6L565.2,203.3L565.2,201.6L562.7,202.0Z"/>
<path class="a" d="M468.1,137.0L469.3,139.5L468.7,142.0L470.6,143.9L469.9,146.4L473.1,146.4L473.1,148.3L470.6,148.9L468.7,151.4L472.4,152.0L469.9,153.3L468.1,155.8L471.2,155.8L476.2,154.5L480.6,153.9L483.3,152.7L483.1,150.2L481.2,148.9L480.0,145.8L477.4,143.3L476.8,140.1L474.9,138.9L473.7,136.4L471.2,135.1L472.4,132.6L469.9,132.0L467.4,133.9Z"/>
<path class="e" d="M459.9,143.3L458.0,145.8L458.7,148.3L457.4,151.2L459.9,151.4L463.0,150.2L465.5,148.3L465.5,145.8L463.7,144.9L463.0,142.6Z"/>
<path class="a" d="M463.7,144.9L466.2,144.1L465.5,142.0L463.0,142.6Z"/>
<path class="a" d="M538.2,101.9L538.9,100.0L535.7,99.0L528.2,98.8L521.9,99.4L515.7,101.9L510.7,105.0L506.9,108.8L503.1,113.2L498.1,116.9L493.1,120.1L491.2,122.0L491.2,124.5L491.9,128.2L493.7,131.4L496.9,132.6L500.6,132.0L503.8,130.7L506.3,128.2L506.6,124.5L505.9,120.1L506.3,116.9L508.8,114.4L510.7,110.7L513.2,106.9L517.5,105.0L521.9,104.4L525.7,105.0L526.9,104.4L530.1,103.8L531.3,102.5L533.2,101.3L535.7,102.5Z"/>
<path class="b" d="M525.7,105.0L521.9,104.4L517.5,105.0L513.2,106.9L510.7,110.7L508.8,114.4L506.3,116.9L505.9,120.1L506.6,124.5L506.3,128.2L505.0,130.7L506.3,133.2L508.2,136.4L510.0,139.5L511.9,139.9L513.8,138.2L516.3,135.7L516.9,132.0L518.8,130.1L519.4,127.0L516.9,125.1L516.3,122.6L518.2,119.4L520.7,116.3L523.2,113.2L526.7,110.7L527.2,107.5Z"/>
<path class="c" d="M527.2,107.5L526.7,110.7L528.2,111.3L531.3,112.6L530.7,114.4L527.6,116.9L525.1,120.1L525.7,123.2L527.6,125.7L530.7,127.6L535.7,126.3L540.1,125.1L543.2,123.2L545.1,120.1L542.6,116.9L540.7,113.2L538.9,108.8L537.0,105.7L535.7,102.5L533.2,101.3L531.3,102.5L530.1,103.8L526.9,104.4Z"/>
<path class="a" d="M505.0,81.0L510.0,83.0L514.0,82.0L522.0,80.0L524.0,77.0L518.0,77.0L512.0,78.0L505.0,77.0L499.0,78.0Z"/>
<path class="e" d="M499.4,196.6L499.6,196.7L500.0,200.0L500.0,200.0L500.0,197.0ZM512.1,323.9L513.2,328.2L514.4,332.6L515.7,337.6L516.0,342.6L515.0,347.7L513.2,352.7L511.9,357.7L513.2,350.0L511.9,355.0L511.3,360.7L512.5,365.0L514.4,370.1L516.9,376.3L518.8,382.6L520.7,388.8L523.2,395.1L525.1,400.8L526.9,405.8L526.9,410.2L530.1,414.5L534.5,412.7L538.8,411.4L543.9,411.4L548.9,409.5L552.6,407.0L556.4,403.9L560.2,399.5L563.3,395.7L565.2,392.0L565.2,388.2L568.3,385.7L572.1,383.2L573.9,378.8L572.7,374.4L572.1,371.3L575.2,367.5L580.2,363.8L585.2,359.4L588.3,355.0L588.3,348.9L587.7,343.9L586.5,342.0L581.5,343.3L576.4,343.9L573.3,343.3L571.4,338.9L568.3,337.0L563.9,335.1L562.0,330.7L560.8,326.4L560.8,322.0L559.6,320.1L559.5,317.3L562.0,317.0L563.3,316.3L560.8,316.6L560.2,313.2L562.0,311.3L561.4,308.2L562.7,303.8L563.3,300.0L563.9,297.5L560.2,296.3L556.4,295.7L552.6,295.0L548.9,293.1L543.9,295.0L540.1,296.9L536.3,295.7L532.6,294.4L530.1,296.3L527.6,298.8L523.3,300.0L523.4,300.1L522.7,303.2L515.2,302.8L510.2,302.8L505.8,302.6L505.8,303.2L510.2,303.2L510.2,305.7L510.5,303.2L516.5,303.2L515.8,305.7L519.0,307.0L519.6,312.0L518.3,315.7L515.2,315.1L513.3,317.0L511.5,320.1L510.2,320.8ZM572.7,343.3L573.3,347.7L575.2,352.7L575.2,357.1L573.3,359.6L572.1,356.4L570.2,353.3L568.3,352.7L569.5,347.7L569.9,343.3L569.5,338.9L571.4,338.9ZM550.8,398.9L553.3,397.4L555.1,398.2L553.9,400.8L551.6,401.6ZM506.3,306.0L510.2,305.7L506.3,305.9ZM565.2,310.1L562.0,311.3L563.7,313.2L563.3,316.3L565.8,315.1L565.8,310.1L568.3,309.4ZM572.1,309.4L572.1,313.2L572.7,308.8L568.3,309.4ZM578.8,294.5L575.1,291.4L572.6,294.5L572.1,296.3L575.2,293.1L577.7,295.0L581.5,296.9L586.5,298.8L586.9,298.7L582.6,297.1ZM590.2,306.3L590.9,311.9L592.6,297.1L591.1,297.6L591.5,297.5L591.5,301.3ZM456.9,290.1L458.8,292.6L457.6,288.8Z"/>
<path class="b" d="M474.9,201.4L475.1,201.3L476.2,205.1L475.2,201.3ZM435.6,244.3L441.9,244.1L445.0,243.8L441.9,243.8L435.6,244.0ZM434.4,262.0L436.3,258.9L439.4,258.9L436.3,258.2ZM435.6,271.9L435.4,270.6L439.4,270.4L443.8,270.1L439.4,270.1L435.4,270.5ZM442.5,278.8L439.8,276.1L441.3,275.2L438.9,275.2L438.8,275.0ZM545.9,241.9L545.9,241.9L576.3,241.9ZM470.6,212.7L466.8,215.2L463.8,217.5L467.6,215.0ZM448.2,265.1L448.8,263.2L446.9,264.5ZM463.8,232.8L463.8,233.8L464.5,240.1ZM500.2,244.1L505.2,240.3L510.2,237.8L510.1,237.6L505.2,240.1L500.2,243.8L495.2,247.6ZM503.8,215.2L505.0,215.8L503.8,214.5L503.1,211.4ZM466.3,275.8L467.0,273.3L465.7,275.2L463.8,273.9L462.0,271.4L459.4,272.0L456.9,272.6L455.1,271.4L451.9,270.8L449.4,268.9L448.8,270.8L451.9,271.0L455.1,271.6L456.9,272.9L458.2,280.0L459.4,278.8L462.6,278.1L465.7,279.4ZM482.0,264.5L481.4,263.2L477.6,263.2L473.9,265.8L477.6,263.6L481.4,263.6ZM483.9,272.8L486.4,270.6L488.9,271.9L489.5,270.9L490.4,269.6L489.5,270.8L486.4,270.1L483.9,272.6L483.3,275.3ZM510.2,268.9L505.2,270.1L500.2,268.9L497.9,268.3L500.2,269.0L505.2,270.3L510.2,269.0L515.2,269.0L517.1,267.7L517.9,269.3L517.1,267.6L515.2,268.9ZM519.6,275.2L519.6,275.0L517.7,278.1L517.7,278.2ZM520.4,283.4L521.5,285.0L522.5,285.0ZM540.9,275.8L540.6,276.1L543.4,278.1L543.5,278.2L542.5,275.1L540.6,271.4L540.3,273.9ZM595.1,277.6L595.1,275.1L593.3,275.1L592.1,274.6L592.0,275.1Z"/>
<path class="c" d="M444.4,238.2L446.3,233.8L448.8,230.7L450.1,226.9L456.9,226.5L457.6,224.4L458.8,220.6L463.8,217.5L466.8,215.2L470.6,212.7L473.1,210.2L476.8,208.3L476.2,205.1L475.1,201.3L474.9,201.4L469.9,201.6L466.8,200.8L465.5,202.0L462.4,205.8L458.7,208.9L456.1,212.7L456.3,215.0L453.8,218.8L450.1,222.5L446.3,225.7L443.2,229.4L440.7,233.8L438.1,238.2L435.6,241.9L435.6,244.0L441.9,243.8Z"/>
<path class="g" d="M446.3,233.8L444.4,238.2L441.9,243.8L445.0,243.8L446.3,238.8L448.8,235.1L450.1,230.7L456.9,230.0L456.9,226.5L450.1,226.9L448.8,230.7Z"/>
<path class="a" d="M442.5,259.5L445.0,262.0L446.9,264.5L448.8,263.2L452.6,262.6L460.1,262.4L466.1,262.0L465.7,256.4L465.1,247.6L464.5,240.1L463.8,233.8L463.8,232.8L460.1,227.5L456.9,226.5L456.9,230.0L450.1,230.7L448.8,235.1L446.3,238.8L445.0,243.8L441.9,244.1L435.6,244.3L435.6,244.4L436.3,248.8L436.9,253.8L436.3,258.2L439.4,258.9Z"/>
<path class="d" d="M476.8,208.3L473.1,210.2L470.6,212.7L467.6,215.0L463.8,217.5L458.8,220.6L457.6,224.4L456.9,226.5L460.1,227.5L463.8,232.8L471.4,237.8L477.6,242.2L483.9,246.6L490.2,251.0L495.2,247.6L500.2,243.8L505.2,240.1L510.1,237.6L509.6,236.3L506.4,232.5L504.6,229.4L504.9,225.0L505.2,220.0L503.8,215.2L503.1,211.4L500.6,208.3L498.8,204.5L500.0,200.1L499.6,196.7L499.4,196.6L496.2,197.0L490.6,197.4L484.3,197.6L479.3,199.5L475.2,201.3L476.2,205.1Z"/>
<path class="c" d="M506.3,212.7L505.0,215.8L503.8,215.2L505.2,220.0L504.9,225.0L504.6,229.4L506.4,232.5L509.6,236.3L510.2,237.8L515.2,238.8L519.0,239.4L524.0,238.8L530.3,241.9L537.8,245.7L544.0,248.6L545.3,247.6L545.9,241.9L545.6,241.9L545.9,241.9L545.3,227.5L544.5,216.4L544.5,213.3L543.9,212.0L540.7,210.8L535.7,209.9L532.0,211.4L530.7,213.9L528.2,215.2L524.4,213.3L519.4,211.4L514.4,209.9L509.4,208.9L507.5,210.2Z"/>
<path class="e" d="M498.8,204.5L500.6,208.3L503.1,211.4L503.8,214.5L505.0,215.8L506.3,212.7L507.5,210.2L509.4,208.9L509.4,208.9L509.4,208.3L508.2,205.1L506.9,202.6L506.3,199.5L505.6,196.4L502.5,195.7L500.0,197.0L500.0,200.1Z"/>
<path class="d" d="M545.3,227.5L545.9,241.9L576.3,241.9L575.4,241.4L573.5,237.6L571.0,232.6L568.5,227.0L566.7,223.2L564.1,218.8L565.4,217.6L567.3,220.1L569.2,223.2L571.3,219.1L569.1,215.2L568.3,214.5L565.2,215.2L562.0,214.5L558.3,213.9L553.3,214.5L548.3,213.9L544.5,213.3L544.5,216.4Z"/>
<path class="b" d="M465.1,247.6L465.7,256.4L466.1,262.0L460.1,262.4L452.6,262.6L448.8,263.2L448.2,265.1L449.4,268.9L451.9,270.8L455.1,271.4L456.9,272.6L459.4,272.0L462.0,271.4L463.8,273.9L465.7,275.2L467.0,273.3L468.2,270.1L471.4,268.3L473.9,265.8L477.6,263.2L481.4,263.2L485.1,262.0L489.5,260.1L490.8,256.4L491.4,252.0L490.2,251.0L483.9,246.6L477.6,242.2L471.4,237.8L463.8,232.8L464.5,240.1Z"/>
<path class="b" d="M490.8,256.4L489.5,260.1L485.1,262.0L481.4,263.2L482.0,264.5L483.9,268.3L486.4,270.1L489.5,270.8L490.4,269.6L491.4,268.1L495.2,267.5L497.9,268.3L500.2,268.9L505.2,270.1L510.2,268.9L515.2,268.9L517.1,267.6L516.5,263.2L517.7,260.7L519.6,256.4L520.2,251.3L521.5,246.3L520.9,241.9L519.0,239.4L515.2,238.8L510.2,237.8L505.2,240.3L500.2,244.1L495.2,247.6L490.2,251.0L491.4,252.0Z"/>
<path class="b" d="M521.5,246.3L520.2,251.3L519.6,256.4L517.7,260.7L516.5,263.2L517.1,267.6L517.9,269.3L519.0,271.3L519.6,275.0L519.6,275.0L519.6,275.2L517.7,278.2L518.3,280.7L520.2,283.2L520.4,283.4L522.5,285.0L522.7,285.0L526.5,283.2L530.3,281.9L534.0,280.7L537.8,278.8L540.3,275.9L540.6,276.1L540.9,275.8L540.3,273.9L539.0,270.1L539.6,266.4L540.9,262.6L543.4,261.4L542.8,257.6L543.4,252.6L544.0,248.6L537.8,245.7L530.3,241.9L524.0,238.8L519.0,239.4L520.9,241.9Z"/>
<path class="b" d="M545.3,247.6L544.0,248.6L543.4,252.6L542.8,257.6L543.4,261.4L540.9,262.6L539.6,266.4L539.0,270.1L540.3,273.9L540.6,271.4L542.5,275.1L543.5,278.2L545.3,279.4L546.2,280.6L547.5,278.9L551.9,280.1L556.3,279.5L561.3,280.1L565.1,277.6L566.9,273.2L569.4,272.6L571.3,276.4L573.8,272.6L576.3,268.2L578.2,265.1L577.6,261.3L578.8,257.6L580.4,254.4L578.2,249.4L577.6,245.7L576.3,241.9L545.9,241.9Z"/>
<path class="b" d="M577.6,261.3L578.2,265.1L582.0,264.8L585.7,265.1L589.5,268.2L592.6,272.0L594.2,271.7L593.9,271.4L591.4,268.2L588.2,265.7L585.1,262.6L583.2,258.2L580.7,255.1L580.4,254.4L578.8,257.6Z"/>
<path class="b" d="M573.8,272.6L571.3,276.4L571.3,280.1L569.4,283.9L572.6,287.7L575.1,291.4L578.8,294.5L582.6,297.1L586.9,298.7L591.1,297.6L592.6,297.1L596.4,295.8L601.4,292.7L605.2,288.9L608.3,285.2L603.9,283.3L598.9,280.8L595.1,277.6L592.0,275.1L592.1,274.6L592.0,274.5L592.6,272.0L589.5,268.2L585.7,265.1L582.0,264.8L578.2,265.1L576.3,268.2Z"/>
<path class="d" d="M592.0,274.5L593.3,275.1L595.1,275.1L596.1,274.2L595.8,273.2L594.2,271.7L592.6,272.0Z"/>
<path class="d" d="M595.1,277.6L598.9,280.8L603.9,283.3L608.3,285.2L605.2,288.9L601.4,292.7L596.4,295.8L592.6,297.1L590.9,311.9L592.7,313.8L595.2,310.7L599.0,306.9L604.0,302.5L605.8,301.7L610.2,295.2L613.9,287.7L616.7,280.1L617.1,273.2L612.7,274.5L607.7,276.4L602.7,277.6L598.3,277.0L596.4,275.1L596.1,274.2L595.1,275.1Z"/>
<path class="d" d="M560.2,296.3L563.9,297.5L568.3,297.5L572.1,296.3L572.6,294.5L575.1,291.4L572.6,287.7L569.4,283.9L571.3,280.1L571.3,276.4L569.4,272.6L566.9,273.2L565.1,277.6L561.3,280.1L556.3,279.5L551.9,280.1L547.5,278.9L546.2,280.6L547.8,282.5L550.9,286.3L554.1,290.1L556.6,293.2L556.4,295.7Z"/>
<path class="d" d="M519.6,293.2L520.9,296.9L523.3,300.0L527.6,298.8L530.1,296.3L532.6,294.4L536.3,295.7L540.1,296.9L543.9,295.0L548.9,293.1L552.6,295.0L556.4,295.7L556.6,293.2L554.1,290.1L550.9,286.3L547.8,282.5L545.3,279.4L543.4,278.1L540.3,275.9L537.8,278.8L534.0,280.7L530.3,281.9L526.5,283.2L522.7,285.0L521.5,285.0L520.2,288.8Z"/>
<path class="d" d="M590.2,306.3L591.5,301.3L591.5,297.5L586.5,298.8L581.5,296.9L577.7,295.0L575.2,293.1L572.1,296.3L572.7,296.9L574.6,300.0L575.2,305.1L572.7,308.8L572.1,313.2L575.2,315.1L580.2,318.2L586.5,322.6L589.6,317.6L592.7,313.8L590.9,311.9Z"/>
<path class="e" d="M562.7,303.8L561.4,308.2L562.0,311.3L565.2,310.1L568.3,309.4L572.7,308.8L575.2,305.1L574.6,300.0L572.7,296.9L572.1,296.3L568.3,297.5L563.9,297.5L563.3,300.0Z"/>
<path class="d" d="M575.2,315.1L572.1,313.2L570.8,315.7L567.7,317.0L565.8,315.1L563.3,316.3L562.0,317.0L562.3,320.7L560.8,322.0L560.8,326.4L562.0,330.7L563.9,335.1L568.3,337.0L571.4,338.9L573.3,343.3L576.4,343.9L581.5,343.3L586.5,342.0L587.1,340.1L585.8,335.1L584.6,330.1L585.2,326.4L586.5,322.6L580.2,318.2Z"/>
<path class="e" d="M563.3,316.3L563.7,313.2L562.0,311.3L560.2,313.2L560.8,316.6Z"/>
<path class="c" d="M560.8,322.0L562.3,320.7L562.0,317.0L559.5,317.3L559.6,320.1Z"/>
<path class="c" d="M569.5,347.7L568.3,352.7L570.2,353.3L572.1,356.4L573.3,359.6L575.2,357.1L575.2,352.7L573.3,347.7L572.7,343.3L571.4,338.9L569.5,338.9L569.9,343.3Z"/>
<path class="d" d="M610.9,351.3L607.8,354.4L604.6,357.5L600.3,358.8L598.4,361.3L597.7,366.3L597.1,371.3L595.0,376.3L595.2,382.0L597.1,385.7L600.3,387.0L604.0,384.5L606.5,379.4L608.4,373.8L610.3,368.2L612.2,362.5L614.0,357.5L614.7,353.1L613.4,350.0Z"/>
<path class="c" d="M507.7,288.8L510.2,287.5L512.7,285.0L514.6,281.3L516.5,277.5L517.7,275.0L519.0,271.3L517.1,267.7L515.2,269.0L510.2,269.0L505.2,270.3L500.2,269.0L495.2,267.5L491.4,268.1L489.5,270.9L488.9,271.9L489.5,274.4L488.3,277.5L487.6,282.5L487.6,290.1L491.4,290.7L493.9,293.2L496.4,295.7L499.5,295.7L502.7,294.4L505.2,291.3Z"/>
<path class="c" d="M519.0,271.3L517.7,275.0L516.5,277.5L514.6,281.3L512.7,285.0L510.2,287.5L507.7,288.8L505.2,291.3L502.7,294.4L503.9,296.9L505.8,300.1L505.8,302.6L510.2,302.8L515.2,302.8L522.7,303.2L523.4,300.1L520.9,296.9L519.6,293.2L520.2,288.8L521.5,285.0L520.2,283.2L518.3,280.7L517.7,278.1L519.6,275.0Z"/>
<path class="b" d="M488.3,277.5L489.5,274.4L488.9,271.9L486.4,270.6L483.9,272.8L483.3,275.3L483.9,280.0L484.1,287.5L484.0,290.6L487.6,290.1L487.6,282.5Z"/>
<path class="b" d="M483.9,280.0L483.3,275.3L481.4,275.0L480.8,278.8L481.4,283.2L482.0,288.2L482.0,291.3L483.3,290.7L484.0,290.6L484.1,287.5Z"/>
<path class="c" d="M481.4,283.2L480.8,278.8L481.4,275.0L477.6,275.3L473.2,275.6L472.0,277.5L471.4,279.4L472.0,282.5L471.4,286.3L472.0,290.7L472.0,293.8L475.1,294.4L479.5,292.6L482.0,291.3L482.0,288.2Z"/>
<path class="c" d="M465.7,279.4L468.8,280.0L471.4,279.4L472.0,277.5L473.2,275.6L477.6,275.3L481.4,275.0L483.3,275.3L483.9,272.6L486.4,270.1L483.9,268.3L482.0,264.5L481.4,263.6L477.6,263.6L473.9,265.8L471.4,268.3L468.2,270.1L467.0,273.3L466.3,275.8Z"/>
<path class="e" d="M471.4,286.3L472.0,282.5L471.4,279.4L468.8,280.0L465.7,279.4L462.6,278.1L459.4,278.8L458.2,280.0L456.9,282.5L458.2,285.0L457.6,288.8L458.8,292.6L459.2,295.0L459.4,295.1L462.6,294.4L467.6,293.8L472.0,293.8L472.0,290.7Z"/>
<path class="b" d="M456.9,290.1L454.4,287.5L451.9,285.0L449.5,288.9L450.1,289.4L453.8,292.6L456.9,294.4L459.2,295.0L458.8,292.6Z"/>
<path class="c" d="M450.7,284.4L450.7,281.3L448.8,279.4L445.7,280.7L444.4,282.0L445.0,283.2L447.5,286.9L449.5,288.9L451.9,285.0Z"/>
<path class="a" d="M448.8,279.4L450.7,281.3L450.7,284.4L451.9,285.0L454.4,287.5L456.9,290.1L457.6,288.8L458.2,285.0L456.9,282.5L458.2,280.0L456.9,272.9L455.1,271.6L451.9,271.0L448.8,270.8L443.8,270.1L439.4,270.4L442.5,271.4L441.9,273.3L441.3,275.2L439.8,276.1L442.5,278.8L444.4,282.0L445.7,280.7Z"/>
<path class="a" d="M442.5,271.4L439.4,270.4L435.4,270.6L435.6,271.9L438.8,275.0L438.9,275.2L441.3,275.2Z"/>
<path class="b" d="M443.8,270.1L448.8,270.8L449.4,268.9L448.2,265.1L446.9,264.5L445.0,262.0L442.5,259.5L439.4,258.9L436.3,258.9L434.4,262.0L433.8,265.1L435.0,268.9L435.4,270.5L439.4,270.1Z"/>
<path class="b" d="M513.3,317.0L515.2,315.1L518.3,315.7L519.6,312.0L519.0,307.0L515.8,305.7L516.5,303.2L510.5,303.2L510.2,305.7L506.3,306.0L504.6,310.1L504.6,313.9L507.1,317.6L510.2,320.8L511.5,320.1Z"/>
<path class="e" d="M510.2,303.2L505.8,303.2L506.4,305.7L506.3,305.9L510.2,305.7Z"/>
<path class="d" d="M553.9,400.8L555.1,398.2L553.3,397.4L550.8,398.9L551.6,401.6Z"/>
<path class="d" d="M740.1,297.5L743.8,302.5L748.8,310.1L755.1,318.8L761.4,325.1L765.6,326.3L766.4,318.8L762.6,313.8L756.3,307.5L750.1,300.0L743.8,293.0L738.0,293.8Z"/>
<path class="d" d="M766.4,330.6L773.9,332.6L782.7,335.1L790.2,335.6L788.9,333.9L781.4,330.6L772.6,328.8L765.1,327.6Z"/>
<path class="d" d="M795.7,336.6L800.7,336.4L800.2,334.6L795.2,335.1Z"/>
<path class="d" d="M804.7,336.6L809.7,336.6L810.2,334.6L804.0,335.1Z"/>
<path class="d" d="M816.5,338.9L822.8,335.1L819.0,335.6L812.7,337.6Z"/>
<path class="d" d="M804.0,340.6L805.2,338.9L801.5,338.1Z"/>
<path class="d" d="M775.1,306.3L776.4,312.6L778.1,318.1L782.7,317.6L787.7,319.6L793.9,320.6L794.7,316.3L797.2,311.3L799.7,306.3L798.9,301.3L796.5,297.1L792.7,298.8L786.4,303.8L780.2,305.5L778.1,305.5Z"/>
<path class="b" d="M780.2,305.5L786.4,303.8L792.7,298.8L797.2,296.8L800.7,293.8L800.2,290.0L795.2,290.0L792.7,293.8L788.9,298.8L782.7,302.5L776.4,305.5Z"/>
<path class="d" d="M804.0,312.6L802.2,318.8L802.7,325.6L805.2,325.1L807.2,320.1L809.7,325.1L812.2,323.8L809.7,318.8L811.5,316.3L807.7,312.6L810.2,309.5L816.5,307.5L817.2,305.5L811.5,306.3L805.2,307.5Z"/>
<path class="d" d="M824.8,308.8L826.8,310.1L827.3,305.5L824.8,304.5Z"/>
<path class="d" d="M823.8,320.1L824.0,318.8L821.5,318.8Z"/>
<path class="d" d="M827.3,319.6L832.3,320.1L832.8,318.3L826.5,317.6Z"/>
<path class="d" d="M855.3,314.3L850.3,315.1L845.3,318.8L841.6,316.3L842.8,313.8L839.0,310.6L834.0,312.1L835.8,314.6L837.8,317.6L842.8,320.1L845.3,323.8L850.3,327.6L855.3,330.1L851.6,332.6L854.1,335.1L859.8,336.9L860.4,316.3Z"/>
<path class="b" d="M859.8,336.9L867.9,336.4L871.6,333.9L876.6,337.6L882.9,341.4L884.2,340.1L880.4,336.4L876.6,331.4L877.9,327.6L872.9,325.1L867.9,320.1L860.4,316.3Z"/>
<path class="b" d="M881.7,328.1L887.9,327.1L892.9,323.8L892.4,319.6L890.4,320.1L891.7,322.1L886.7,325.1L880.4,326.3Z"/>
<path class="b" d="M899.4,329.6L900.5,328.8L898.4,327.6Z"/>
<path class="b" d="M905.5,333.9L906.7,333.1L904.2,331.4Z"/>
<path class="b" d="M910.5,338.1L911.7,337.6L909.2,335.1Z"/>
<path class="b" d="M914.2,341.6L915.5,341.4L913.5,338.9Z"/>
<path class="a" d="M915.0,371.7L920.5,377.0L921.3,376.5L915.5,370.7Z"/>
<path class="a" d="M777.6,415.3L782.7,415.3L790.2,412.8L797.7,410.3L805.2,407.8L812.7,406.5L819.0,407.8L824.0,411.6L827.8,415.3L830.3,412.8L833.3,415.3L835.3,421.6L840.3,425.3L845.3,426.6L852.8,425.3L860.4,421.6L866.6,416.6L871.6,410.3L876.6,402.8L880.4,394.0L880.9,386.5L877.9,379.0L874.1,372.7L870.4,365.2L867.9,356.4L865.4,350.2L862.9,343.9L860.4,348.9L857.8,356.4L855.3,363.9L851.6,360.2L846.6,356.4L842.8,352.7L846.6,348.1L841.6,346.4L835.3,345.6L829.0,348.9L826.5,353.9L820.3,352.7L814.0,356.4L809.0,360.2L806.5,363.9L797.7,370.2L788.9,374.0L781.4,379.0L777.6,390.3L778.9,404.0L775.1,412.8Z"/>
<path class="a" d="M837.5,437.6L840.0,440.7L842.5,440.1L845.0,437.0L846.9,433.8L843.1,434.5L840.0,435.1Z"/>
<path class="a" d="M921.2,421.3L919.6,425.1L917.1,428.2L914.6,429.4L915.2,432.0L913.3,434.5L914.6,435.1L917.7,433.2L921.5,430.7L925.2,428.2L928.3,425.7L927.7,424.4L924.0,423.8L922.7,421.3L923.0,417.5L922.1,414.8L920.8,415.0Z"/>
<path class="a" d="M905.2,435.7L901.4,438.8L896.4,441.4L890.1,443.9L884.5,447.4L881.6,449.5L883.9,451.1L887.0,451.1L891.4,448.2L896.4,445.1L902.0,442.0L906.4,438.8L910.2,436.3L909.5,434.1L907.7,433.6Z"/>
<path class="c" d="M769.6,252.6L772.2,253.2L774.0,251.3L774.0,248.8L771.5,248.2L769.0,249.4Z"/>
<path class="c" d="M797.6,238.8L799.1,241.3L800.3,238.8L800.7,235.0L799.7,232.5L797.8,233.8Z"/>
<path class="b" d="M802.0,257.0L801.2,260.7L802.9,264.5L805.4,267.0L808.5,268.9L811.6,270.1L812.3,268.9L809.7,267.0L806.6,265.7L804.7,263.8L805.4,260.1L806.0,256.3L804.7,253.2L801.6,253.8Z"/>
<path class="b" d="M804.1,270.1L805.4,270.7L805.7,268.9L804.1,268.2Z"/>
<path class="b" d="M809.5,278.3L811.0,280.8L812.3,278.9L811.0,276.4L810.4,273.9L808.5,274.5Z"/>
<path class="b" d="M816.0,274.5L817.3,275.1L816.6,272.6L814.8,271.4Z"/>
<path class="b" d="M812.0,276.6L812.9,277.0L812.3,274.5Z"/>
<path class="b" d="M810.4,287.7L812.3,286.4L815.0,287.7L816.0,290.2L817.9,291.4L819.8,289.5L821.0,286.4L819.8,282.6L817.9,280.8L815.4,283.3L812.3,283.9L809.1,286.4Z"/>
<path class="b" d="M797.5,282.6L799.7,279.5L802.2,276.4L801.6,275.8L799.1,278.3L796.6,282.0Z"/>
<path class="e" d="M809.5,152.5L813.2,156.3L816.4,160.0L818.2,163.2L821.4,166.9L823.6,167.5L822.6,166.3L819.5,163.2L818.2,160.7L819.5,159.4L818.2,158.1L815.1,155.6L811.4,152.5L807.6,150.0Z"/>
<path class="b" d="M825.1,174.4L825.8,176.9L823.9,178.2L825.1,180.7L827.0,182.0L828.9,180.1L831.4,179.4L833.9,178.2L835.2,176.3L832.7,174.4L828.9,175.1L825.8,173.2L823.9,171.9Z"/>
<path class="b" d="M828.3,186.3L830.2,188.8L830.2,192.6L828.3,195.7L825.8,197.0L825.1,200.1L822.6,201.1L819.5,201.4L817.0,203.3L815.7,205.8L813.2,207.0L813.2,208.9L815.7,210.8L817.4,213.3L818.9,212.7L818.2,209.5L816.4,207.0L818.2,205.1L820.1,203.9L823.3,204.5L825.8,203.9L827.0,205.8L828.9,204.5L832.0,203.3L835.2,202.6L836.7,200.1L835.8,197.0L834.5,193.9L834.5,190.1L832.7,187.0L830.2,184.5L828.3,183.8Z"/>
<path class="b" d="M821.4,207.9L824.5,206.4L823.9,205.1L820.1,205.8Z"/>
<path class="e" d="M582.0,97.6L585.7,98.6L588.9,98.8L587.0,96.9L585.1,94.4L586.4,91.3L588.9,88.8L592.6,87.5L597.0,86.5L601.4,85.7L601.4,84.7L597.6,84.8L592.6,85.7L587.6,86.3L583.9,87.5L582.0,90.1L580.1,93.2L578.2,96.3Z"/>
<path class="e" d="M634.6,76.9L639.0,77.8L644.0,79.0L649.0,79.8L649.6,78.8L646.5,77.5L641.5,76.0L637.1,75.0L633.4,75.6Z"/>
<path class="e" d="M652.8,80.3L655.3,81.3L659.7,81.5L660.3,80.3L656.5,79.4L652.8,79.0Z"/>
<path class="e" d="M558.8,75.6L563.2,75.3L563.3,76.3L559.0,76.6Z"/>
</g>
<g id="borders">
<path class="bd" d="M120.0,139.4L120.1,139.4L120.2,140.0M185.9,141.6L187.7,140.1L185.8,137.6L186.5,133.2L185.8,129.5L181.5,130.1L178.3,127.6L176.4,126.3L203.3,102.0M260.4,164.1L258.8,162.6L256.3,159.8L256.4,160.3L189.3,160.2M233.7,264.2L233.8,263.7L235.7,260.8L238.2,259.5L238.2,256.2L241.3,256.2M239.4,266.2L238.7,266.8M238.9,266.8L239.4,266.2M239.4,266.2L240.1,265.8L242.0,264.5M243.1,262.0L241.1,261.4L241.3,258.9L241.3,256.2M241.3,256.2L243.8,253.9L244.7,254.8M245.1,267.7L244.5,266.4L242.0,264.5M242.0,264.5L243.2,262.1M245.1,267.7L244.2,269.0M244.4,269.1L245.1,267.7M245.1,267.7L247.0,268.9L248.8,268.3L251.4,266.4L253.9,264.5L256.9,265.1M250.3,276.0L250.3,275.5M250.3,275.5L250.3,275.3L254.9,275.3M258.3,283.1L257.8,280.9L259.5,281.3M262.2,165.8L261.9,165.7L261.7,165.5M265.2,306.6L268.8,305.9L273.4,307.8L276.3,310.9L275.3,314.1L271.6,316.6L268.8,319.4L266.9,324.1L263.1,323.1L263.1,320.7M265.9,167.1L265.1,167.3L265.0,167.3M270.3,285.1L270.5,284.2M272.2,165.8L270.4,166.2M277.8,170.1L277.6,168.8L276.3,166.9L275.0,166.4M276.7,180.7L275.7,180.1L275.7,180.1M289.6,253.6L289.6,249.6M312.0,167.0L310.2,169.4L305.2,171.3L298.9,172.8L295.1,174.5M303.4,376.6L310.0,376.6L314.7,375.3M328.7,477.1L324.1,473.8L319.4,469.1L315.6,467.2L310.0,464.4L307.2,458.8L307.2,453.1L305.3,445.6L303.4,443.8L302.5,436.3L301.0,426.9L300.6,419.4L299.1,411.9L298.4,402.5L299.7,393.1L300.6,385.6L301.6,380.0L303.4,376.6M303.4,376.6L301.6,378.1L299.1,372.5L296.9,367.2L295.0,362.5L295.9,355.0L295.0,349.4L295.0,343.8L299.7,341.5L303.4,340.0L304.4,344.7L310.0,348.4L316.6,352.2L318.4,357.8L324.1,359.7L325.9,364.4L325.0,369.1L325.0,369.1M314.7,375.3L315.6,377.8M314.9,374.2L314.7,375.3M315.6,377.8L314.9,374.2M314.9,374.2L314.7,373.4L315.6,368.8L320.3,367.8L325.0,369.1M315.5,172.5L316.7,171.3L317.1,168.2L316.4,165.7L315.2,165.7M315.6,377.8L321.3,380.9L326.9,385.6L328.8,391.3L333.4,392.8M326.5,301.6L324.1,303.4L320.9,304.4L319.4,300.6L319.8,296.9L317.9,294.1L316.0,291.3L316.6,287.5L317.3,284.5M326.5,301.6L325.0,297.8L324.1,295.0L324.9,291.3M325.0,369.1L326.9,374.4L330.6,378.1L335.3,381.9L337.2,386.6L333.4,392.8M332.9,300.6L329.7,301.6L326.5,301.6M333.4,392.8L338.1,388.4L339.6,391.3L336.3,395.9L332.5,400.6L330.6,405.3L330.3,410.9L329.7,412.3L331.0,413.2M340.8,297.2L338.1,301.6L335.3,302.5L332.9,300.6M332.9,300.6L332.5,295.9L333.2,292.3M360.9,77.4L361.1,77.4L364.6,76.5M435.1,260.9L436.3,258.9L439.4,258.9M443.8,270.1L439.4,270.1L435.5,270.5M435.5,270.6L439.4,270.4M441.9,243.8L435.7,244.0M435.7,244.3L441.9,244.1L445.0,243.8M439.4,258.9L436.4,258.3M441.3,275.2L439.1,275.2M439.4,258.9L442.5,259.5L445.0,262.0L446.9,264.5M439.4,270.4L442.5,271.4L441.9,273.3L441.3,275.2M439.4,270.4L443.8,270.1M439.9,276.0L441.3,275.2M445.0,243.8L441.9,243.8M441.9,243.8L444.4,238.2L446.3,233.8L448.8,230.7L450.1,226.9L456.9,226.5M448.8,270.8L443.8,270.1M451.9,285.0L450.7,284.4L450.7,281.3L448.8,279.4L445.7,280.7L444.4,281.9M445.0,243.8L446.3,238.8L448.8,235.1L450.1,230.7L456.9,230.0L456.9,226.5M446.9,264.5L448.2,265.1M448.8,263.2L446.9,264.5M448.2,265.1L449.4,268.9M448.2,265.1L448.8,263.2M448.8,263.2L452.6,262.6L460.1,262.4L466.1,262.0L465.7,256.4L465.1,247.6L464.5,240.1M448.8,270.8L451.9,271.0L455.1,271.6L456.9,272.9L458.2,280.0M449.4,268.9L448.8,270.8M467.0,273.3L465.7,275.2L463.8,273.9L462.0,271.4L459.4,272.0L456.9,272.6L455.1,271.4L451.9,270.8L449.4,268.9M451.9,285.0L449.6,288.8M456.9,290.1L454.4,287.5L451.9,285.0M463.8,232.8L460.1,227.5L456.9,226.5M456.9,226.5L457.6,224.4L458.8,220.6L463.8,217.5M456.9,290.1L458.8,292.6M457.6,288.8L456.9,290.1M458.8,292.6L457.6,288.8M458.2,280.0L456.9,282.5L458.2,285.0L457.6,288.8M458.2,280.0L459.4,278.8L462.6,278.1L465.7,279.4M458.7,181.3L463.0,182.0L462.8,186.3L461.8,190.1L461.2,194.4M458.8,292.6L459.2,294.9M463.6,144.8L463.1,142.7M470.6,212.7L466.8,215.2L463.8,217.5M463.8,217.5L467.6,215.0L470.6,212.7M463.8,232.8L471.4,237.8L477.6,242.2L483.9,246.6L490.2,251.0M464.5,240.1L463.8,232.8M463.8,232.8L463.8,233.8L464.5,240.1M465.7,279.4L468.8,280.0L471.4,279.4M465.7,279.4L466.3,275.8L467.0,273.3M467.0,273.3L468.2,270.1L471.4,268.3L473.9,265.8M470.6,212.7L473.1,210.2L476.8,208.3L476.2,205.1M471.4,279.4L472.0,282.5L471.4,286.3L472.0,290.7L472.0,293.7M481.4,275.0L477.6,275.3L473.2,275.6L472.0,277.5L471.4,279.4M481.4,263.2L477.6,263.2L473.9,265.8M473.9,265.8L477.6,263.6L481.4,263.6L482.0,264.5M475.1,201.4L476.2,205.1M476.2,205.1L475.2,201.4M482.0,264.5L481.4,263.2M481.4,263.2L485.1,262.0L489.5,260.1L490.8,256.4L491.4,252.0L490.2,251.0M483.3,275.3L481.4,275.0M481.4,275.0L480.8,278.8L481.4,283.2L482.0,288.2L482.0,291.2M482.0,264.5L483.9,268.3L486.4,270.1M483.3,275.3L483.9,280.0L484.1,287.5L484.0,290.5M486.4,270.1L483.9,272.6L483.3,275.3M483.3,275.3L483.9,272.8L486.4,270.6L488.9,271.9M490.4,269.6L489.5,270.8L486.4,270.1M488.9,271.9L489.5,274.4L488.3,277.5L487.6,282.5L487.6,290.0M488.9,271.9L489.5,270.9L490.4,269.6M488.9,153.3L492.5,156.9L493.1,156.7M490.2,251.0L495.2,247.6M490.4,269.6L491.4,268.1L495.2,267.5L497.9,268.3M496.2,148.3L495.4,152.0L495.1,152.2M510.1,237.6L505.2,240.1L500.2,243.8L495.2,247.6M495.2,247.6L500.2,244.1L505.2,240.3L510.2,237.8M496.0,157.5L497.5,159.4L498.3,161.3M497.2,165.4L496.2,166.9L497.0,168.9M517.1,267.6L515.2,268.9L510.2,268.9L505.2,270.1L500.2,268.9L497.9,268.3M497.9,268.3L500.2,269.0L505.2,270.3L510.2,269.0L515.2,269.0L517.1,267.7L517.9,269.3M499.6,196.9L500.0,200.0M500.0,200.0L500.0,197.1M503.1,211.4L500.6,208.3L498.8,204.5L500.0,200.1M503.1,141.4L500.7,142.6M502.1,168.8L504.0,166.5M502.7,294.4L505.2,291.3L507.7,288.8L510.2,287.5L512.7,285.0L514.6,281.3L516.5,277.5L517.7,275.0L519.0,271.3M505.0,215.8L503.8,214.5L503.1,211.4M503.1,211.4L503.8,215.2M503.8,215.2L505.0,215.8M510.1,237.6L509.6,236.3L506.4,232.5L504.6,229.4L504.9,225.0L505.2,220.0L503.8,215.2M504.0,166.5L508.2,166.2M509.3,209.0L507.5,210.2L506.3,212.7L505.0,215.8M523.3,300.0L523.4,300.1L522.7,303.2L515.2,302.8L510.2,302.8L505.9,302.6M505.9,303.2L510.2,303.2L510.2,305.7M506.3,128.2L506.6,124.5L505.9,120.1L506.3,116.9L508.8,114.4L510.7,110.7L513.2,106.9L517.5,105.0L521.9,104.4L525.6,105.0M506.4,306.0L510.2,305.7M510.2,305.7L506.5,305.9M508.2,166.2L511.3,166.0L511.3,166.1M511.3,166.1L508.2,166.2M510.0,156.9L510.0,156.9L511.9,155.6L512.8,155.3M511.7,160.0L511.3,159.8L510.2,157.2M510.2,237.8L515.2,238.8L519.0,239.4M510.2,305.7L510.5,303.2L516.5,303.2L515.8,305.7L519.0,307.0L519.6,312.0L518.3,315.7L515.2,315.1L513.3,317.0L511.5,320.1L510.3,320.7M511.3,166.1L511.9,166.0L512.5,166.4M512.0,357.3L511.9,357.7L512.0,357.3M513.0,146.5L513.2,147.0L513.8,150.2L515.6,153.8M513.2,161.0L518.2,160.7M513.7,168.5L513.2,167.5L513.7,167.3M514.5,166.9L518.2,166.3L520.1,165.7M517.9,269.3L517.1,267.6M517.1,267.6L516.5,263.2L517.7,260.7L519.6,256.4L520.2,251.3L521.5,246.3L520.9,241.9L519.0,239.4M517.7,278.2L518.3,280.7L520.2,283.2L520.4,283.4M519.6,275.0L517.7,278.1L517.7,278.2M517.7,278.2L519.6,275.2L519.6,275.0M517.9,269.3L519.0,271.3M519.0,239.4L524.0,238.8L530.3,241.9L537.8,245.7L544.0,248.6M519.0,271.3L519.6,275.0L519.6,275.0M520.1,165.7L521.3,167.5L523.8,168.8L528.2,168.2L532.0,166.9M520.1,165.7L522.9,163.0M522.5,285.0L520.4,283.4M520.4,283.4L521.5,285.0M521.5,285.0L522.5,285.0M521.5,285.0L520.2,288.8L519.6,293.2L520.9,296.9L523.3,300.0M522.0,159.9L523.1,162.4M522.5,285.0L522.7,285.0L526.5,283.2L530.3,281.9L534.0,280.7L537.8,278.8L540.3,275.9L540.6,276.1M556.4,295.7L552.6,295.0L548.9,293.1L543.9,295.0L540.1,296.9L536.3,295.7L532.6,294.4L530.1,296.3L527.6,298.8L523.3,300.0M526.4,144.1L530.1,143.9M526.7,110.6L527.2,107.6M527.0,104.4L530.1,103.8L531.3,102.5L533.2,101.3L535.6,102.5M527.5,162.3L528.2,162.3M528.2,162.3L527.5,162.3M528.2,162.3L528.9,162.1M528.9,162.2L528.2,162.3M529.5,142.3L530.1,143.9M530.1,143.9L533.2,144.1L535.7,145.1M531.4,186.3L533.2,184.5M532.0,138.2L535.7,138.9L540.1,139.5L540.7,141.4M536.3,176.2L535.7,173.2L534.5,170.7L532.0,166.9M532.0,166.9L534.5,164.4L535.7,162.6M533.2,184.5L534.6,184.0M534.6,184.0L533.2,184.5M533.9,151.5L535.7,155.2L534.5,158.2M535.7,145.1L534.5,147.6M540.7,141.4L538.9,143.9L535.7,145.1M535.8,162.5L540.7,163.2M553.3,149.5L550.8,151.4L545.7,152.0L540.7,151.4L535.8,150.8M536.2,103.7L537.0,105.7L538.9,108.8L540.7,113.2L542.6,116.9L545.1,120.1L543.2,123.2L540.1,125.1L539.1,125.4M537.5,182.7L536.3,180.7L536.3,176.7M538.9,176.3L543.2,175.9L547.5,175.9M540.3,273.9L540.9,275.8L540.6,276.1M540.3,273.9L539.0,270.1L539.6,266.4L540.9,262.6L543.4,261.4L542.8,257.6L543.4,252.6L544.0,248.6M543.5,278.2L542.5,275.1L540.6,271.4L540.3,273.9M540.5,135.3L542.0,137.6L547.0,140.1M540.6,276.1L543.4,278.1L543.5,278.2M540.9,130.5L541.4,132.6L540.7,133.7M547.0,140.1L540.7,141.4M540.7,163.2L541.1,163.2M541.1,163.2L540.7,163.2M543.5,278.2L545.3,279.4L546.2,280.6M544.0,248.6L545.3,247.6L545.9,241.9M545.9,241.9L545.3,227.5L544.5,216.4L544.5,213.4M546.9,183.1L545.2,182.3M545.9,163.1L548.3,162.5L550.8,165.7L551.4,168.7M576.1,241.9L545.9,241.9M545.9,241.9L545.6,241.9L545.9,241.9M545.9,241.9L576.1,241.9M546.2,280.6L547.8,282.5L550.9,286.3L554.1,290.1L556.6,293.2L556.4,295.7M546.2,280.6L547.5,278.9L551.9,280.1L556.3,279.5L561.3,280.1L565.1,277.6L566.9,273.2L569.4,272.6L571.3,276.4M547.0,140.1L552.0,143.9L554.5,147.0L553.3,149.5M548.3,166.3L547.9,165.9M547.9,165.9L548.3,166.3M550.1,168.8L548.3,166.3M553.3,149.5L557.0,150.2L560.8,153.9L565.8,156.4L572.1,158.3L574.5,160.2M563.9,297.5L560.2,296.3L556.4,295.7M571.4,338.9L568.3,337.0L563.9,335.1L562.0,330.7L560.8,326.4L560.8,322.0M560.8,322.0L559.6,320.1L559.5,317.3L562.0,317.0M562.0,317.0L562.3,320.7L560.8,322.0M562.0,311.3L563.7,313.2L563.3,316.3M563.3,316.3L560.8,316.6L560.2,313.2L562.0,311.3M562.0,311.3L561.4,308.2L562.7,303.8L563.3,300.0L563.9,297.5M566.2,309.8L565.2,310.1L562.0,311.3M562.0,317.0L563.3,316.3M563.3,316.3L565.7,315.1M563.9,297.5L568.3,297.5L572.1,296.3M572.7,308.8L569.0,309.3M571.3,219.1L569.2,215.4M569.2,215.4L571.3,219.1M571.3,276.4L571.3,280.1L569.4,283.9L572.6,287.7L575.1,291.4M571.3,276.4L573.8,272.6L576.3,268.2L578.2,265.1M586.4,342.0L581.5,343.3L576.4,343.9L573.3,343.3L571.4,338.9M571.4,338.9L572.7,343.3L573.3,347.7L575.2,352.7L575.2,357.1L573.3,359.6L572.1,356.4L570.2,353.3L568.3,352.7L569.5,347.7L569.9,343.3L569.5,338.9L571.4,338.9M572.1,296.3L572.7,296.9L574.6,300.0L575.2,305.1L572.7,308.8M575.1,291.4L572.6,294.5L572.1,296.3M572.1,296.3L575.2,293.1L577.7,295.0L581.5,296.9L586.5,298.8L586.9,298.7M572.1,313.2L575.2,315.1L580.2,318.2L586.4,322.5M572.2,312.5L572.7,308.8M574.5,160.2L573.9,162.5L573.3,165.7L573.1,165.8M586.9,298.7L582.6,297.1L578.8,294.5L575.1,291.4M578.2,265.1L577.6,261.3L578.8,257.6L580.4,254.5M578.2,265.1L582.0,264.8L585.7,265.1L589.5,268.2L592.6,272.0M605.4,221.4L603.0,222.0L601.1,220.1L597.4,219.5L593.6,217.0L589.8,214.5L586.1,212.3L582.9,211.1L580.4,209.4L579.8,208.2M579.8,208.2L579.2,210.7L576.7,212.6L577.9,215.1L575.4,217.6L571.7,218.8L570.4,216.3L570.8,212.6L571.7,209.4L573.5,210.1L576.7,208.2L579.8,208.2M579.8,208.2L582.9,203.2L584.2,198.8L585.4,195.7L589.8,196.3L593.6,198.8L596.7,201.3L597.4,205.1L599.9,208.8L603.0,213.2L604.9,217.6L605.4,221.0M602.8,188.8L602.8,188.9L600.3,188.2L597.8,190.1L594.7,190.1L591.5,188.2L589.6,186.4L586.5,185.7L584.0,183.2L584.8,182.0M584.8,182.0L583.2,181.1L580.7,177.8L584.5,178.3L588.9,179.8L593.3,181.1L593.9,181.6M584.8,182.0L585.3,181.4L588.6,183.0M586.9,298.7L587.2,298.6L591.1,297.6M588.9,183.0L591.5,182.0L593.9,181.6M590.9,311.9L592.7,313.8M591.1,297.6L591.5,297.5L591.5,301.3L590.2,306.3L590.9,311.9M590.9,311.9L592.6,297.1M592.6,297.1L591.1,297.6M595.1,275.1L593.3,275.1L592.1,274.6M592.1,274.6L592.0,275.1L595.1,277.6M592.1,274.6L592.0,274.5L592.6,272.0M592.6,272.0L594.1,271.7M592.6,297.1L596.4,295.8L601.4,292.7L605.2,288.9L608.3,285.2L603.9,283.3L598.9,280.8L595.1,277.6M593.9,181.6L595.9,181.4L599.0,182.6L601.4,182.6M595.1,277.6L595.1,275.1M595.1,275.1L596.0,274.3M596.5,168.1L596.5,166.3L593.4,163.2L590.3,160.1L590.9,156.3L595.3,152.5L601.5,151.9L606.6,153.8L612.8,154.4L620.3,153.8L622.2,151.9L619.1,150.0L620.3,145.6L626.6,143.8L632.9,141.9L637.9,141.3L642.9,144.4L647.9,145.6L652.9,143.8L656.7,146.9L661.7,150.0L666.7,153.2L671.7,153.8L678.0,155.7L684.3,158.8L685.5,160.7M614.8,183.8L617.8,182.0L621.6,180.7L624.7,180.1L628.5,182.6L632.9,185.1L636.6,187.6L641.0,190.1L644.2,193.3L647.3,194.5M637.9,200.8L634.1,198.3L630.4,195.8L625.4,193.9L620.3,193.3L616.0,193.9L615.1,194.4M628.3,230.2L627.4,233.3L626.2,235.8L624.9,238.9L621.2,238.9L617.5,236.5M646.3,220.7L642.5,220.1L640.0,219.4L638.1,218.2L638.7,214.5L636.8,211.3L635.6,206.9L636.0,207.7L636.0,202.7L637.9,200.8M637.9,200.8L640.4,200.2L642.9,197.6L645.4,197.0L647.3,194.5M642.0,231.6L642.5,228.8L645.6,227.0L644.4,223.2L646.3,220.7M646.3,220.7L651.3,219.4L655.0,217.6L657.5,213.8L660.7,210.7L662.6,206.9L663.8,202.5L665.1,198.8L666.9,196.9M648.5,191.4L647.3,194.5M647.3,194.5L649.2,193.9M649.2,193.9L648.5,191.4M648.5,191.4L650.4,189.5L652.3,186.4L654.8,185.1L657.9,187.0L660.4,187.6L665.5,187.0M649.2,193.9L652.3,195.1L656.1,193.9L659.2,192.6L661.7,195.1L664.2,196.4L668.0,195.8M660.8,237.0L666.9,235.1L664.4,232.6L662.6,228.2L663.8,225.1L667.6,223.8L670.7,220.1L672.6,215.7L673.2,211.3L673.8,208.2L671.3,206.9L669.4,204.4L672.6,203.8L676.3,204.4L678.2,201.9M665.5,187.0L666.7,190.1L669.2,192.6L668.0,195.8M665.5,187.0L665.5,185.7L669.2,183.9L671.7,182.0L676.7,180.1L677.4,177.0L675.5,173.2L678.0,170.7L679.2,166.3L683.0,164.4L685.5,160.7M666.9,196.9L670.1,198.1L673.2,200.0L675.5,200.9M669.2,196.4L666.9,196.9M668.0,195.8L669.2,196.4M675.5,200.2L673.0,197.6L669.2,196.4M676.7,201.4L675.5,200.2M675.5,200.2L675.5,200.9M675.5,200.9L676.3,201.3L676.7,201.4M676.7,201.4L678.2,201.9M678.2,201.9L680.1,203.1L681.4,205.7L683.2,207.5L682.9,208.6M682.6,209.4L683.3,209.5M682.6,209.4L682.6,209.4L683.4,210.7M682.9,208.6L682.6,209.4M683.3,209.5L682.9,208.6M690.4,216.6L688.0,213.9L683.6,210.2L683.3,209.5M683.4,210.7L690.4,216.6M683.4,210.7L684.5,212.5L687.0,215.1L689.5,216.9M685.5,160.7L685.3,160.3L687.8,160.3M687.8,160.3L690.3,164.0L697.8,167.8L705.4,172.8L715.4,177.8L725.4,179.0L737.9,181.6L748.0,176.5L753.0,171.5L760.5,169.0L766.8,165.3L760.5,161.5M687.8,160.3L695.3,156.5L707.9,155.2L710.4,151.5L720.4,155.2L730.4,157.7L740.5,159.0L753.0,157.7L760.5,161.5M691.8,282.7L689.0,282.7M711.4,225.7L710.2,228.2L705.2,227.3L700.2,225.7L695.1,223.2L690.1,220.7L688.9,218.8L689.5,216.9M689.5,216.9L690.4,216.6M690.4,216.6L691.4,216.3L695.1,218.2L700.2,220.7L705.2,223.2L710.2,224.4M712.1,225.1L710.2,224.4M710.2,224.4L711.4,225.7M711.4,225.7L712.1,228.2L713.9,228.8L717.7,228.8L721.5,228.2L721.5,225.7L722.7,223.2M720.8,224.4L721.2,227.0L718.3,228.2L714.6,228.2L712.4,227.0L712.1,225.1M712.1,225.1L713.9,223.6L717.7,223.2L720.8,224.4M714.9,242.0L714.6,237.6L712.7,233.8L712.1,230.1L713.9,229.5L716.4,230.7L720.2,231.3L722.7,232.6L722.1,235.7L724.0,237.6L725.2,239.5M722.7,223.2L720.8,224.4M722.7,223.2L725.8,220.7L729.6,220.1L732.7,221.9M724.0,240.8L725.2,239.5M725.2,239.5L726.5,235.7L727.7,232.0L729.0,228.8L730.9,227.0L733.4,224.4M735.2,223.2L732.7,221.9M732.7,221.9L733.4,224.4M733.4,224.4L735.2,223.2M736.2,224.1L735.2,223.2M735.2,223.2L736.3,224.7M738.9,228.8L737.1,225.0L736.2,224.1M736.2,224.1L736.3,224.7M736.3,224.7L738.9,228.8M738.9,228.8L737.7,232.5L738.9,236.3L742.1,238.8L743.3,241.9L746.5,243.8M746.5,276.4L745.8,273.2L745.2,268.9L744.0,265.1L742.7,261.3L741.4,257.6L739.6,253.8L740.2,250.7L742.7,248.2M746.3,246.1L745.2,246.9L742.7,248.2M742.7,248.2L745.2,247.6L747.1,249.4M744.0,284.6L744.0,280.1L745.8,277.0L746.5,276.4M750.8,290.8L747.1,288.3L744.3,285.5M746.5,276.4L744.8,277.0L744.7,277.0M747.1,249.4L745.8,247.6L746.3,246.1M746.3,246.1L746.5,245.7L747.7,245.1M746.5,243.8L747.7,245.1M749.6,242.5L746.5,243.8M747.1,249.4L748.3,252.6L749.6,255.1L753.4,254.4L757.1,253.8L760.2,256.3L762.1,260.1L762.1,264.5M747.7,245.1L749.6,242.5M749.6,242.5L750.8,240.0L754.6,238.8L758.4,238.2L762.1,239.4L764.6,241.9M749.6,242.5L752.1,241.9L754.6,243.8L755.2,246.3L757.1,248.8L759.6,251.9L762.1,255.1L764.6,258.2L767.1,262.0L767.1,265.1M750.5,291.7L750.8,290.8M754.0,291.4L750.8,290.8M754.0,291.4L755.3,291.9M754.4,290.1L754.0,291.4M762.1,264.5L759.0,265.7L755.9,267.0L754.6,269.4M760.5,161.5L755.5,157.7L758.0,150.2L760.5,146.5L768.0,147.7L775.5,152.7L785.6,159.0L795.6,162.8L801.9,165.3L801.3,170.7L798.2,172.6L799.4,175.1L801.3,178.1M762.1,264.5L764.6,265.7L767.1,265.1M767.1,265.1L768.1,266.4L768.4,270.1L767.1,273.9L764.0,277.0L762.2,279.3M796.4,297.1L792.7,298.8L786.4,303.8L780.2,305.5L778.1,305.5M793.1,190.6L790.7,186.3L793.2,183.2L796.3,181.3L799.4,179.4L801.2,178.3M859.9,336.8L860.3,316.4M550.8,398.9L553.3,397.4L555.1,398.2L553.9,400.8L551.6,401.6L550.8,398.9"/>
<polyline class="l" points="180.0,209.3 184.7,209.7 190.3,212.1 198.8,213.4 205.3,212.9 209.1,218.1 213.8,219.6 217.5,220.9 220.3,226.6 223.5,230.3"/>
<polyline class="l" points="332.5,401.0 338.1,403.8 343.2,409.6"/>
<polyline class="l" points="286.6,273.4 284.7,276.3 283.8,280.9 286.6,285.6 290.3,288.4 295.0,290.3 296.9,295.0 295.9,299.7 297.8,302.5 299.1,305.3 303.4,306.3 306.3,302.5 305.9,297.8 310.0,296.9 314.7,295.0 316.0,291.3"/>
<polyline class="l" points="299.1,305.3 296.9,304.4 291.6,305.3 290.3,310.0 291.3,314.7 290.3,319.4 289.4,322.2 283.8,325.0 280.9,330.6 282.8,337.2 286.6,340.0 290.3,340.9 295.0,343.8"/>
<polyline class="l" points="273.4,307.8 278.1,311.9 282.8,315.6 289.4,317.5"/>
<polyline class="l" points="295.0,362.5 293.1,364.4"/>
<polyline class="l" points="796.9,193.2 798.8,192.6 801.3,192.4"/>
<polyline class="l" points="616.0,172.0 620.3,170.7 624.1,172.0 627.9,174.5 632.9,176.3 637.9,176.3 642.3,178.8 645.4,182.6 649.2,185.1 651.7,183.9 654.2,181.4 656.7,178.2 660.4,177.6 664.2,177.6 671.7,178.2 677.4,177.3"/>
<polyline class="l" points="616.0,172.0 616.6,177.6 617.8,182.0"/>
<polyline class="l" points="654.2,181.4 656.1,183.2 659.8,183.9 658.6,186.4 660.4,187.6"/>
<polyline class="l" points="665.5,185.7 669.2,183.9 671.7,182.0"/>
<polyline class="l" points="571.7,197.5 577.3,196.0 581.1,196.3 585.4,195.7 589.8,196.3 591.1,191.9"/>
<polyline class="l" points="571.7,218.8 575.4,217.6 577.9,215.1 576.7,212.6 579.2,210.7 579.8,209.4"/>
<polyline class="l" points="585.4,195.7 584.2,198.8 582.9,203.2 579.8,208.2"/>
<polyline class="l" points="591.1,191.9 593.6,190.0 596.1,189.8"/>
<polyline class="l" points="603.0,222.0 605.5,221.4"/>
<polyline class="l" points="627.4,233.3 626.2,235.8 624.9,238.9 626.2,241.4 628.1,245.2 626.2,248.3 621.2,250.2 618.7,251.4 616.2,252.1 611.1,252.7 607.4,255.2 606.1,256.7"/>
<polyline class="l" points="618.7,251.4 618.7,258.6"/>
<polyline class="l" points="514.4,169.8 518.2,169.4 521.3,167.8 525.7,169.4 528.2,170.7 526.3,171.9 521.9,171.6 520.1,173.2 523.2,176.9"/>
<polyline class="l" points="526.3,171.9 528.2,173.8 526.9,176.9 525.1,178.2"/>
<polyline class="l" points="528.2,173.8 529.5,177.6 532.0,179.4 534.5,178.2 536.3,176.3"/>
<polyline class="l" points="528.2,180.7 530.1,180.1 531.3,183.2 530.7,186.3"/>
<polyline class="l" points="531.3,180.7 535.1,180.1 536.3,182.0"/>
<polyline class="l" points="525.7,169.4 528.2,168.5 532.0,166.9"/>
<polyline class="l" points="560.8,388.2 563.3,387.6 564.2,390.1 562.7,392.6 560.8,391.4 560.8,388.2"/>
<polyline class="l" points="523.2,300.0 527.6,298.8 530.1,296.3 528.8,301.3 528.2,306.3 526.3,311.3 523.8,316.3 521.9,321.3 519.4,323.8 516.3,324.5 513.2,325.7"/>
<polyline class="l" points="513.8,327.6 520.1,327.6 525.1,328.2 526.9,332.6 530.1,333.2 533.2,332.0 536.3,331.4 538.8,333.2 539.5,337.6 540.1,343.3 543.9,342.9 548.9,344.5 552.6,346.4 555.8,347.7 558.9,350.2 558.9,347.7 556.4,346.4 557.6,343.9 557.0,338.9 557.6,335.8 560.2,335.1 563.9,335.1"/>
<polyline class="l" points="523.2,300.0 522.6,303.2 518.8,306.9 519.4,311.9 518.2,315.7"/>
<polyline class="l" points="543.9,342.9 543.9,347.7 538.8,348.9 538.8,356.4 541.4,361.9"/>
<polyline class="l" points="511.9,360.7 516.3,361.3 525.1,362.5 530.1,363.2 536.3,363.8 541.4,362.5 545.1,361.9"/>
<polyline class="l" points="536.3,363.8 535.7,370.1 533.2,375.7 532.8,382.6 532.8,387.6 532.3,393.9 530.7,397.6 526.9,398.2 523.5,395.9"/>
<polyline class="l" points="532.8,387.6 534.5,390.7 537.6,388.2 541.4,386.3 546.4,385.7 549.5,382.6 551.4,379.4 555.1,376.9 558.9,376.3 562.0,376.9"/>
<polyline class="l" points="545.1,361.9 547.6,365.0 549.5,368.8 552.6,372.6 556.4,375.1 558.9,376.3"/>
<polyline class="l" points="545.1,361.9 550.1,360.0 553.9,357.5 557.6,355.6 561.4,355.0 565.2,357.5 567.7,361.3 567.7,366.3 565.8,371.3 563.9,374.4 562.0,376.9 563.3,381.3 563.9,386.3 565.2,388.2"/>
<polyline class="l" points="561.4,355.0 563.9,353.1 568.3,352.5 570.2,353.8"/>
<polyline class="l" points="573.3,343.3 573.3,347.7 575.2,352.7 575.2,357.1 573.3,359.6"/>
</g>
<g id="legend">
<rect x="147.8" y="536.5" width="32" height="34.5" fill="#fcd3bd"/>
<text transform="translate(199.8,560.3) scale(0.952,1)">0.6–0.7</text>
<rect x="308.1" y="536.5" width="32" height="34.5" fill="#f0a472"/>
<text transform="translate(360.1,560.3) scale(0.952,1)">0.7–0.8</text>
<rect x="468.4" y="536.5" width="32" height="34.5" fill="#f0843c"/>
<text transform="translate(520.4,560.3) scale(0.952,1)">0.8–0.8</text>
<rect x="628.7" y="536.5" width="32" height="34.5" fill="#e5531b"/>
<text transform="translate(680.7,560.3) scale(0.952,1)">0.8–0.8</text>
<rect x="789.0" y="536.5" width="32" height="34.5" fill="#6565bd"/>
<text transform="translate(841.0,560.3) scale(0.952,1)">0.8–1</text>
</g>
</svg>
</body></html>
